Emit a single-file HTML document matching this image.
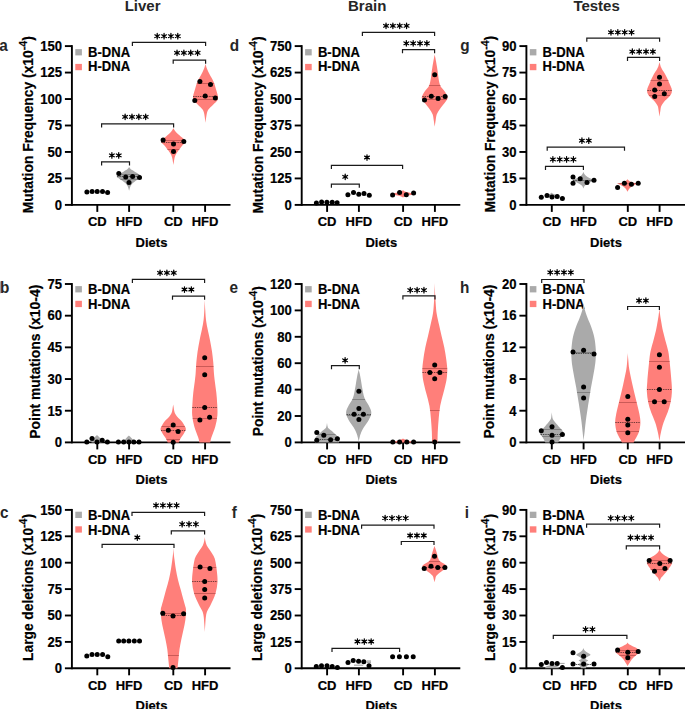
<!DOCTYPE html>
<html><head><meta charset="utf-8"><title>Figure</title>
<style>
html,body{margin:0;padding:0;background:#fff;}
body{width:685px;height:709px;overflow:hidden;}
svg{display:block;}
text{font-family:"Liberation Sans", sans-serif;fill:#000;stroke:#000;stroke-width:0.2px;}
.g{fill:#262626;stroke:none;}
.b{font-weight:bold;}
</style></head><body>
<svg width="685" height="709" viewBox="0 0 685 709">
<rect width="685" height="709" fill="#fff"/>
<text x="142.6" y="11.4" font-size="15" text-anchor="middle" class="b g">Liver</text>
<text x="367.2" y="11.4" font-size="15" text-anchor="middle" class="b g">Brain</text>
<text x="596.6" y="11.4" font-size="15" text-anchor="middle" class="b g">Testes</text>
<g stroke="#000" stroke-width="1.9" fill="none">
<path d="M71.9,45.15V205.85"/>
<path d="M64.9,46.1H71.9"/>
<path d="M64.9,72.57H71.9"/>
<path d="M64.9,99.03H71.9"/>
<path d="M64.9,125.5H71.9"/>
<path d="M64.9,151.97H71.9"/>
<path d="M64.9,178.43H71.9"/>
<path d="M64.9,204.9H71.9"/>
<path d="M71.9,204.9H230.5"/>
<path d="M97.3,204.9V211.9"/>
<path d="M129.1,204.9V211.9"/>
<path d="M173.3,204.9V211.9"/>
<path d="M205.1,204.9V211.9"/>
</g>
<text transform="translate(62.1,50.9) scale(0.95,1)" font-size="13.8" text-anchor="end" class="b">150</text>
<text transform="translate(62.1,77.37) scale(0.95,1)" font-size="13.8" text-anchor="end" class="b">125</text>
<text transform="translate(62.1,103.83) scale(0.95,1)" font-size="13.8" text-anchor="end" class="b">100</text>
<text transform="translate(62.1,130.3) scale(0.95,1)" font-size="13.8" text-anchor="end" class="b">75</text>
<text transform="translate(62.1,156.77) scale(0.95,1)" font-size="13.8" text-anchor="end" class="b">50</text>
<text transform="translate(62.1,183.23) scale(0.95,1)" font-size="13.8" text-anchor="end" class="b">25</text>
<text transform="translate(62.1,209.7) scale(0.95,1)" font-size="13.8" text-anchor="end" class="b">0</text>
<text x="97.3" y="226.1" font-size="13" text-anchor="middle" class="b">CD</text>
<text x="129.1" y="226.1" font-size="13" text-anchor="middle" class="b">HFD</text>
<text x="173.3" y="226.1" font-size="13" text-anchor="middle" class="b">CD</text>
<text x="205.1" y="226.1" font-size="13" text-anchor="middle" class="b">HFD</text>
<text x="151.5" y="246.7" font-size="13" text-anchor="middle" class="b">Diets</text>
<text transform="translate(33.1,213.3) rotate(-90)" font-size="15" class="b" textLength="177.1" lengthAdjust="spacingAndGlyphs">Mutation Frequency (x10<tspan dy="-6" font-size="11.5">-4</tspan><tspan dy="6">)</tspan></text>
<text transform="translate(-0.75,50.9) scale(0.93,1)" font-size="16.5" class="b g">a</text>
<rect x="75.3" y="49.1" width="6.6" height="6.3" fill="#aaaaaa"/>
<rect x="75.3" y="63.9" width="6.6" height="6.3" fill="#ff7f7a"/>
<text transform="translate(88.1,56.6) scale(0.92,1)" font-size="14.2" class="b">B-DNA</text>
<text transform="translate(88.1,71.3) scale(0.92,1)" font-size="14.2" class="b">H-DNA</text>
<circle cx="86.9" cy="191.9" r="2.5" fill="#000"/>
<circle cx="92.1" cy="191.6" r="2.5" fill="#000"/>
<circle cx="97.2" cy="191.6" r="2.5" fill="#000"/>
<circle cx="102.5" cy="191.6" r="2.5" fill="#000"/>
<circle cx="107.6" cy="192.4" r="2.5" fill="#000"/>
<path d="M129.1,167C129.23,167.2 129.57,167.8 129.9,168.2C130.23,168.6 130.57,169 131.1,169.4C131.63,169.8 132.43,170.18 133.1,170.6C133.77,171.02 134.43,171.48 135.1,171.9C135.77,172.32 136.48,172.68 137.1,173.1C137.72,173.52 138.25,173.98 138.8,174.4C139.35,174.82 139.95,175.18 140.4,175.6C140.85,176.02 141.58,176.48 141.5,176.9C141.42,177.32 140.48,177.68 139.9,178.1C139.32,178.52 138.63,178.98 138,179.4C137.37,179.82 136.72,180.18 136.1,180.6C135.48,181.02 134.83,181.48 134.3,181.9C133.77,182.32 133.32,182.7 132.9,183.1C132.48,183.5 132.23,183.68 131.8,184.3C131.37,184.92 130.75,185.72 130.3,186.8C129.85,187.88 129.3,190.13 129.1,190.8L129.1,190.8C128.9,190.13 128.35,187.88 127.9,186.8C127.45,185.72 126.83,184.92 126.4,184.3C125.97,183.68 125.72,183.5 125.3,183.1C124.88,182.7 124.43,182.32 123.9,181.9C123.37,181.48 122.72,181.02 122.1,180.6C121.48,180.18 120.83,179.82 120.2,179.4C119.57,178.98 118.88,178.52 118.3,178.1C117.72,177.68 116.78,177.32 116.7,176.9C116.62,176.48 117.35,176.02 117.8,175.6C118.25,175.18 118.85,174.82 119.4,174.4C119.95,173.98 120.48,173.52 121.1,173.1C121.72,172.68 122.43,172.32 123.1,171.9C123.77,171.48 124.43,171.02 125.1,170.6C125.77,170.18 126.57,169.8 127.1,169.4C127.63,169 127.97,168.6 128.3,168.2C128.63,167.8 128.97,167.2 129.1,167Z" fill="#aaaaaa"/>
<line x1="117.12" y1="176.5" x2="141.08" y2="176.5" stroke="#222222" stroke-dasharray="1.4,0.9" stroke-width="1" stroke-opacity="0.7"/>
<line x1="118.87" y1="174.5" x2="139.33" y2="174.5" stroke="#5e5e5e" stroke-width="1" stroke-opacity="0.55"/>
<line x1="120.52" y1="179.5" x2="137.68" y2="179.5" stroke="#5e5e5e" stroke-width="1" stroke-opacity="0.55"/>
<circle cx="118.8" cy="173.5" r="2.5" fill="#000"/>
<circle cx="125.7" cy="177.1" r="2.5" fill="#000"/>
<circle cx="132.6" cy="176.4" r="2.5" fill="#000"/>
<circle cx="139.5" cy="177.6" r="2.5" fill="#000"/>
<circle cx="129" cy="182.5" r="2.5" fill="#000"/>
<path d="M173.4,128.3C173.6,128.62 174.22,129.63 174.6,130.2C174.98,130.77 175.28,131.18 175.7,131.7C176.12,132.22 176.58,132.78 177.1,133.3C177.62,133.82 178.2,134.28 178.8,134.8C179.4,135.32 180.05,135.87 180.7,136.4C181.35,136.93 182.08,137.48 182.7,138C183.32,138.52 183.88,138.83 184.4,139.5C184.92,140.17 186.18,140.97 185.8,142C185.42,143.03 183.08,144.57 182.1,145.7C181.12,146.83 180.68,147.77 179.9,148.8C179.12,149.83 178.12,150.87 177.4,151.9C176.68,152.93 176.1,153.87 175.6,155C175.1,156.13 174.77,157.03 174.4,158.7C174.03,160.37 173.57,163.95 173.4,165L173.4,165C173.23,163.95 172.77,160.37 172.4,158.7C172.03,157.03 171.7,156.13 171.2,155C170.7,153.87 170.12,152.93 169.4,151.9C168.68,150.87 167.68,149.83 166.9,148.8C166.12,147.77 165.68,146.83 164.7,145.7C163.72,144.57 161.38,143.03 161,142C160.62,140.97 161.88,140.17 162.4,139.5C162.92,138.83 163.48,138.52 164.1,138C164.72,137.48 165.45,136.93 166.1,136.4C166.75,135.87 167.4,135.32 168,134.8C168.6,134.28 169.18,133.82 169.7,133.3C170.22,132.78 170.68,132.22 171.1,131.7C171.52,131.18 171.82,130.77 172.2,130.2C172.58,129.63 173.2,128.62 173.4,128.3Z" fill="#ff7f7a"/>
<line x1="161.9" y1="140.5" x2="184.9" y2="140.5" stroke="#a03c3a" stroke-width="1" stroke-opacity="0.55"/>
<line x1="161.3" y1="142.5" x2="185.5" y2="142.5" stroke="#3a1c1c" stroke-dasharray="1.4,0.9" stroke-width="1" stroke-opacity="0.7"/>
<line x1="167.38" y1="149.5" x2="179.42" y2="149.5" stroke="#a03c3a" stroke-width="1" stroke-opacity="0.55"/>
<circle cx="163.1" cy="140" r="2.5" fill="#000"/>
<circle cx="183.8" cy="141.5" r="2.5" fill="#000"/>
<circle cx="173.5" cy="144.1" r="2.5" fill="#000"/>
<circle cx="173.5" cy="151.5" r="2.5" fill="#000"/>
<path d="M205.5,64C205.7,64.67 206.22,66.68 206.7,68C207.18,69.32 207.62,70.3 208.4,71.9C209.18,73.5 210.47,75.8 211.4,77.6C212.33,79.4 213.25,80.82 214,82.7C214.75,84.58 215.25,86.65 215.9,88.9C216.55,91.15 217.65,94.32 217.9,96.2C218.15,98.08 218.2,98.78 217.4,100.2C216.6,101.62 214.57,103.2 213.1,104.7C211.63,106.2 209.65,107.7 208.6,109.2C207.55,110.7 207.32,111.45 206.8,113.7C206.28,115.95 205.72,121.2 205.5,122.7L205.5,122.7C205.28,121.2 204.72,115.95 204.2,113.7C203.68,111.45 203.45,110.7 202.4,109.2C201.35,107.7 199.37,106.2 197.9,104.7C196.43,103.2 194.4,101.62 193.6,100.2C192.8,98.78 192.85,98.08 193.1,96.2C193.35,94.32 194.45,91.15 195.1,88.9C195.75,86.65 196.25,84.58 197,82.7C197.75,80.82 198.67,79.4 199.6,77.6C200.53,75.8 201.82,73.5 202.6,71.9C203.38,70.3 203.82,69.32 204.3,68C204.78,66.68 205.3,64.67 205.5,64Z" fill="#ff7f7a"/>
<line x1="196.85" y1="83.5" x2="214.15" y2="83.5" stroke="#a03c3a" stroke-width="1" stroke-opacity="0.55"/>
<line x1="193.1" y1="96.5" x2="217.9" y2="96.5" stroke="#3a1c1c" stroke-dasharray="1.4,0.9" stroke-width="1" stroke-opacity="0.7"/>
<line x1="193.49" y1="99.5" x2="217.51" y2="99.5" stroke="#a03c3a" stroke-width="1" stroke-opacity="0.55"/>
<circle cx="199.9" cy="81.5" r="2.5" fill="#000"/>
<circle cx="210.5" cy="84.6" r="2.5" fill="#000"/>
<circle cx="205.2" cy="95.9" r="2.5" fill="#000"/>
<circle cx="215.3" cy="98.1" r="2.5" fill="#000"/>
<circle cx="194.8" cy="100.5" r="2.5" fill="#000"/>
<g stroke="#000" stroke-width="1.9" fill="none">
<path d="M71.9,283.05V443.35"/>
<path d="M64.9,284H71.9"/>
<path d="M64.9,315.68H71.9"/>
<path d="M64.9,347.36H71.9"/>
<path d="M64.9,379.04H71.9"/>
<path d="M64.9,410.72H71.9"/>
<path d="M64.9,442.4H71.9"/>
<path d="M71.9,442.4H230.5"/>
<path d="M97.3,442.4V449.4"/>
<path d="M129.1,442.4V449.4"/>
<path d="M173.3,442.4V449.4"/>
<path d="M205.1,442.4V449.4"/>
</g>
<text transform="translate(62.1,288.8) scale(0.95,1)" font-size="13.8" text-anchor="end" class="b">75</text>
<text transform="translate(62.1,320.48) scale(0.95,1)" font-size="13.8" text-anchor="end" class="b">60</text>
<text transform="translate(62.1,352.16) scale(0.95,1)" font-size="13.8" text-anchor="end" class="b">45</text>
<text transform="translate(62.1,383.84) scale(0.95,1)" font-size="13.8" text-anchor="end" class="b">30</text>
<text transform="translate(62.1,415.52) scale(0.95,1)" font-size="13.8" text-anchor="end" class="b">15</text>
<text transform="translate(62.1,447.2) scale(0.95,1)" font-size="13.8" text-anchor="end" class="b">0</text>
<text x="97.3" y="463.6" font-size="13" text-anchor="middle" class="b">CD</text>
<text x="129.1" y="463.6" font-size="13" text-anchor="middle" class="b">HFD</text>
<text x="173.3" y="463.6" font-size="13" text-anchor="middle" class="b">CD</text>
<text x="205.1" y="463.6" font-size="13" text-anchor="middle" class="b">HFD</text>
<text x="151.5" y="484.2" font-size="13" text-anchor="middle" class="b">Diets</text>
<text transform="translate(40.1,438.8) rotate(-90)" font-size="15" class="b" textLength="154.1" lengthAdjust="spacingAndGlyphs">Point mutations (x10-4)</text>
<text transform="translate(-0.1,293.1) scale(0.93,1)" font-size="16.5" class="b g">b</text>
<rect x="75.3" y="286.1" width="6.6" height="6.3" fill="#aaaaaa"/>
<rect x="75.3" y="300.8" width="6.6" height="6.3" fill="#ff7f7a"/>
<text transform="translate(88.1,293.9) scale(0.92,1)" font-size="14.2" class="b">B-DNA</text>
<text transform="translate(88.1,308.8) scale(0.92,1)" font-size="14.2" class="b">H-DNA</text>
<path d="M97,435C97.42,435.42 98.67,436.67 99.5,437.5C100.33,438.33 101.5,439.18 102,440C102.5,440.82 102.42,442 102.5,442.4L91.5,442.4C91.58,442 91.5,440.82 92,440C92.5,439.18 93.67,438.33 94.5,437.5C95.33,436.67 96.58,435.42 97,435Z" fill="#aaaaaa"/>
<circle cx="86.8" cy="442" r="2.5" fill="#000"/>
<circle cx="92" cy="438.5" r="2.5" fill="#000"/>
<circle cx="97" cy="442" r="2.5" fill="#000"/>
<circle cx="102.2" cy="440.3" r="2.5" fill="#000"/>
<circle cx="107.4" cy="442" r="2.5" fill="#000"/>
<path d="M128.9,435.5C129.32,435.92 130.65,437.17 131.4,438C132.15,438.83 132.98,439.77 133.4,440.5C133.82,441.23 133.82,442.08 133.9,442.4L123.9,442.4C123.98,442.08 123.98,441.23 124.4,440.5C124.82,439.77 125.65,438.83 126.4,438C127.15,437.17 128.48,435.92 128.9,435.5Z" fill="#aaaaaa"/>
<circle cx="118.4" cy="442" r="2.5" fill="#000"/>
<circle cx="123.7" cy="442" r="2.5" fill="#000"/>
<circle cx="128.9" cy="442" r="2.5" fill="#000"/>
<circle cx="133.8" cy="442" r="2.5" fill="#000"/>
<circle cx="139" cy="442" r="2.5" fill="#000"/>
<path d="M173.2,404.5C173.27,404.92 173.47,406.13 173.6,407C173.73,407.87 173.8,408.7 174,409.7C174.2,410.7 174.33,411.92 174.8,413C175.27,414.08 175.93,415.12 176.8,416.2C177.67,417.28 179,418.42 180,419.5C181,420.58 182.02,421.62 182.8,422.7C183.58,423.78 184.18,424.92 184.7,426C185.22,427.08 185.95,428.13 185.9,429.2C185.85,430.27 184.98,431.32 184.4,432.4C183.82,433.48 183.1,434.62 182.4,435.7C181.7,436.78 180.8,437.78 180.2,438.9C179.6,440.02 179.03,441.82 178.8,442.4L167.6,442.4C167.37,441.82 166.8,440.02 166.2,438.9C165.6,437.78 164.7,436.78 164,435.7C163.3,434.62 162.58,433.48 162,432.4C161.42,431.32 160.55,430.27 160.5,429.2C160.45,428.13 161.18,427.08 161.7,426C162.22,424.92 162.82,423.78 163.6,422.7C164.38,421.62 165.4,420.58 166.4,419.5C167.4,418.42 168.73,417.28 169.6,416.2C170.47,415.12 171.13,414.08 171.6,413C172.07,411.92 172.2,410.7 172.4,409.7C172.6,408.7 172.67,407.87 172.8,407C172.93,406.13 173.13,404.92 173.2,404.5Z" fill="#ff7f7a"/>
<line x1="161.59" y1="426.5" x2="184.81" y2="426.5" stroke="#a03c3a" stroke-width="1" stroke-opacity="0.55"/>
<line x1="161.06" y1="430.5" x2="185.34" y2="430.5" stroke="#3a1c1c" stroke-dasharray="1.4,0.9" stroke-width="1" stroke-opacity="0.7"/>
<line x1="166.36" y1="439.5" x2="180.04" y2="439.5" stroke="#a03c3a" stroke-width="1" stroke-opacity="0.55"/>
<circle cx="173.2" cy="425" r="2.5" fill="#000"/>
<circle cx="168.3" cy="430.2" r="2.5" fill="#000"/>
<circle cx="178.1" cy="431.5" r="2.5" fill="#000"/>
<circle cx="173.2" cy="442.2" r="2.5" fill="#000"/>
<path d="M204.8,300C204.88,301.67 205.08,307 205.25,310C205.42,313 205.59,315.8 205.8,318C206.01,320.2 206.2,321.38 206.5,323.2C206.8,325.02 207.02,326.07 207.6,328.9C208.18,331.73 209.27,336.43 210,340.2C210.73,343.97 211.45,347.73 212,351.5C212.55,355.27 212.97,359.03 213.3,362.8C213.63,366.57 213.75,371.02 214,374.1C214.25,377.18 214.42,378.22 214.8,381.3C215.18,384.38 215.9,388.83 216.3,392.6C216.7,396.37 217.02,400.13 217.2,403.9C217.38,407.67 217.72,411.43 217.4,415.2C217.08,418.97 216.32,422.73 215.3,426.5C214.28,430.27 212.15,435.15 211.3,437.8C210.45,440.45 210.38,441.63 210.2,442.4L199.4,442.4C199.22,441.63 199.15,440.45 198.3,437.8C197.45,435.15 195.32,430.27 194.3,426.5C193.28,422.73 192.52,418.97 192.2,415.2C191.88,411.43 192.22,407.67 192.4,403.9C192.58,400.13 192.9,396.37 193.3,392.6C193.7,388.83 194.42,384.38 194.8,381.3C195.18,378.22 195.35,377.18 195.6,374.1C195.85,371.02 195.97,366.57 196.3,362.8C196.63,359.03 197.05,355.27 197.6,351.5C198.15,347.73 198.87,343.97 199.6,340.2C200.33,336.43 201.42,331.73 202,328.9C202.58,326.07 202.8,325.02 203.1,323.2C203.4,321.38 203.59,320.2 203.8,318C204.01,315.8 204.18,313 204.35,310C204.52,307 204.73,301.67 204.8,300Z" fill="#ff7f7a"/>
<line x1="196.08" y1="366.5" x2="213.52" y2="366.5" stroke="#a03c3a" stroke-width="1" stroke-opacity="0.55"/>
<line x1="192.34" y1="407.5" x2="217.26" y2="407.5" stroke="#3a1c1c" stroke-dasharray="1.4,0.9" stroke-width="1" stroke-opacity="0.7"/>
<line x1="192.74" y1="418.5" x2="216.86" y2="418.5" stroke="#a03c3a" stroke-width="1" stroke-opacity="0.55"/>
<circle cx="204.7" cy="357.7" r="2.5" fill="#000"/>
<circle cx="204.7" cy="374.7" r="2.5" fill="#000"/>
<circle cx="204.7" cy="407.5" r="2.5" fill="#000"/>
<circle cx="199.9" cy="419.9" r="2.5" fill="#000"/>
<circle cx="209.6" cy="417.2" r="2.5" fill="#000"/>
<g stroke="#000" stroke-width="1.9" fill="none">
<path d="M71.9,508.95V669.25"/>
<path d="M64.9,509.9H71.9"/>
<path d="M64.9,536.3H71.9"/>
<path d="M64.9,562.7H71.9"/>
<path d="M64.9,589.1H71.9"/>
<path d="M64.9,615.5H71.9"/>
<path d="M64.9,641.9H71.9"/>
<path d="M64.9,668.3H71.9"/>
<path d="M71.9,668.3H230.5"/>
<path d="M97.3,668.3V675.3"/>
<path d="M129.1,668.3V675.3"/>
<path d="M173.3,668.3V675.3"/>
<path d="M205.1,668.3V675.3"/>
</g>
<text transform="translate(62.1,514.7) scale(0.95,1)" font-size="13.8" text-anchor="end" class="b">150</text>
<text transform="translate(62.1,541.1) scale(0.95,1)" font-size="13.8" text-anchor="end" class="b">125</text>
<text transform="translate(62.1,567.5) scale(0.95,1)" font-size="13.8" text-anchor="end" class="b">100</text>
<text transform="translate(62.1,593.9) scale(0.95,1)" font-size="13.8" text-anchor="end" class="b">75</text>
<text transform="translate(62.1,620.3) scale(0.95,1)" font-size="13.8" text-anchor="end" class="b">50</text>
<text transform="translate(62.1,646.7) scale(0.95,1)" font-size="13.8" text-anchor="end" class="b">25</text>
<text transform="translate(62.1,673.1) scale(0.95,1)" font-size="13.8" text-anchor="end" class="b">0</text>
<text x="97.3" y="689.5" font-size="13" text-anchor="middle" class="b">CD</text>
<text x="129.1" y="689.5" font-size="13" text-anchor="middle" class="b">HFD</text>
<text x="173.3" y="689.5" font-size="13" text-anchor="middle" class="b">CD</text>
<text x="205.1" y="689.5" font-size="13" text-anchor="middle" class="b">HFD</text>
<text x="151.5" y="710.1" font-size="13" text-anchor="middle" class="b">Diets</text>
<text transform="translate(33.1,660.9) rotate(-90)" font-size="15" class="b" textLength="146.9" lengthAdjust="spacingAndGlyphs">Large deletions (x10<tspan dy="-6" font-size="11.5">-4</tspan><tspan dy="6">)</tspan></text>
<text transform="translate(-0.1,518.3) scale(0.93,1)" font-size="16.5" class="b g">c</text>
<rect x="75.3" y="511.7" width="6.6" height="6.3" fill="#aaaaaa"/>
<rect x="75.3" y="526.3" width="6.6" height="6.3" fill="#ff7f7a"/>
<text transform="translate(88.1,519.6) scale(0.92,1)" font-size="14.2" class="b">B-DNA</text>
<text transform="translate(88.1,534.5) scale(0.92,1)" font-size="14.2" class="b">H-DNA</text>
<circle cx="86.8" cy="656" r="2.5" fill="#000"/>
<circle cx="92" cy="654.5" r="2.5" fill="#000"/>
<circle cx="97.2" cy="654.5" r="2.5" fill="#000"/>
<circle cx="102.6" cy="654.5" r="2.5" fill="#000"/>
<circle cx="107.8" cy="656.7" r="2.5" fill="#000"/>
<circle cx="118.7" cy="640.9" r="2.5" fill="#000"/>
<circle cx="123.7" cy="640.9" r="2.5" fill="#000"/>
<circle cx="128.9" cy="640.9" r="2.5" fill="#000"/>
<circle cx="134.3" cy="640.9" r="2.5" fill="#000"/>
<circle cx="139.5" cy="640.9" r="2.5" fill="#000"/>
<path d="M173.4,548C173.47,549 173.62,552.05 173.8,554C173.98,555.95 174.15,557.1 174.5,559.7C174.85,562.3 175.33,566.32 175.9,569.6C176.47,572.88 177.12,576.12 177.9,579.4C178.68,582.68 179.7,586 180.6,589.3C181.5,592.6 182.58,596.58 183.3,599.2C184.02,601.82 184.45,603.22 184.9,605C185.35,606.78 185.92,607.45 186,609.9C186.08,612.35 185.82,616.42 185.4,619.7C184.98,622.98 184.18,626.32 183.5,629.6C182.82,632.88 181.97,636.12 181.3,639.4C180.63,642.68 179.97,646 179.5,649.3C179.03,652.6 178.83,656.03 178.5,659.2C178.17,662.37 177.67,666.78 177.5,668.3L169.3,668.3C169.13,666.78 168.63,662.37 168.3,659.2C167.97,656.03 167.77,652.6 167.3,649.3C166.83,646 166.17,642.68 165.5,639.4C164.83,636.12 163.98,632.88 163.3,629.6C162.62,626.32 161.82,622.98 161.4,619.7C160.98,616.42 160.72,612.35 160.8,609.9C160.88,607.45 161.45,606.78 161.9,605C162.35,603.22 162.78,601.82 163.5,599.2C164.22,596.58 165.3,592.6 166.2,589.3C167.1,586 168.12,582.68 168.9,579.4C169.68,576.12 170.33,572.88 170.9,569.6C171.47,566.32 171.95,562.3 172.3,559.7C172.65,557.1 172.82,555.95 173,554C173.18,552.05 173.33,549 173.4,548Z" fill="#ff7f7a"/>
<line x1="161.01" y1="613.5" x2="185.79" y2="613.5" stroke="#a03c3a" stroke-width="1" stroke-opacity="0.55"/>
<line x1="161.14" y1="615.5" x2="185.66" y2="615.5" stroke="#3a1c1c" stroke-dasharray="1.4,0.9" stroke-width="1" stroke-opacity="0.7"/>
<line x1="167.89" y1="655.5" x2="178.91" y2="655.5" stroke="#a03c3a" stroke-width="1" stroke-opacity="0.55"/>
<circle cx="162.8" cy="613.3" r="2.5" fill="#000"/>
<circle cx="173" cy="616" r="2.5" fill="#000"/>
<circle cx="183.6" cy="613.7" r="2.5" fill="#000"/>
<circle cx="173" cy="667.6" r="2.5" fill="#000"/>
<path d="M204.8,537C204.9,537.67 205.07,539.58 205.4,541C205.73,542.42 206.07,544 206.8,545.5C207.53,547 208.77,548.42 209.8,550C210.83,551.58 212.12,553.33 213,555C213.88,556.67 214.47,557.38 215.1,560C215.73,562.62 216.4,567.03 216.8,570.7C217.2,574.37 217.72,578.22 217.5,582C217.28,585.78 216.63,589.62 215.5,593.4C214.37,597.18 212.07,601.77 210.7,604.7C209.33,607.63 208.08,609.12 207.3,611C206.52,612.88 206.33,613.83 206,616C205.67,618.17 205.5,621.33 205.3,624C205.1,626.67 204.88,630.67 204.8,632L204.8,632C204.72,630.67 204.5,626.67 204.3,624C204.1,621.33 203.93,618.17 203.6,616C203.27,613.83 203.08,612.88 202.3,611C201.52,609.12 200.27,607.63 198.9,604.7C197.53,601.77 195.23,597.18 194.1,593.4C192.97,589.62 192.32,585.78 192.1,582C191.88,578.22 192.4,574.37 192.8,570.7C193.2,567.03 193.87,562.62 194.5,560C195.13,557.38 195.72,556.67 196.6,555C197.48,553.33 198.77,551.58 199.8,550C200.83,548.42 202.07,547 202.8,545.5C203.53,544 203.87,542.42 204.2,541C204.53,539.58 204.7,537.67 204.8,537Z" fill="#ff7f7a"/>
<line x1="193.34" y1="567.5" x2="216.26" y2="567.5" stroke="#a03c3a" stroke-width="1" stroke-opacity="0.55"/>
<line x1="192.12" y1="581.5" x2="217.48" y2="581.5" stroke="#3a1c1c" stroke-dasharray="1.4,0.9" stroke-width="1" stroke-opacity="0.7"/>
<line x1="194.1" y1="593.5" x2="215.5" y2="593.5" stroke="#a03c3a" stroke-width="1" stroke-opacity="0.55"/>
<circle cx="200.1" cy="566.9" r="2.5" fill="#000"/>
<circle cx="209.9" cy="568.5" r="2.5" fill="#000"/>
<circle cx="204.7" cy="581.6" r="2.5" fill="#000"/>
<circle cx="204.7" cy="589.5" r="2.5" fill="#000"/>
<circle cx="204.7" cy="597.9" r="2.5" fill="#000"/>
<g stroke="#000" stroke-width="1.9" fill="none">
<path d="M301.7,45.15V205.85"/>
<path d="M294.7,46.1H301.7"/>
<path d="M294.7,72.57H301.7"/>
<path d="M294.7,99.03H301.7"/>
<path d="M294.7,125.5H301.7"/>
<path d="M294.7,151.97H301.7"/>
<path d="M294.7,178.43H301.7"/>
<path d="M294.7,204.9H301.7"/>
<path d="M301.7,204.9H460.3"/>
<path d="M327.1,204.9V211.9"/>
<path d="M358.9,204.9V211.9"/>
<path d="M403.1,204.9V211.9"/>
<path d="M434.9,204.9V211.9"/>
</g>
<text transform="translate(291.9,50.9) scale(0.95,1)" font-size="13.8" text-anchor="end" class="b">750</text>
<text transform="translate(291.9,77.37) scale(0.95,1)" font-size="13.8" text-anchor="end" class="b">625</text>
<text transform="translate(291.9,103.83) scale(0.95,1)" font-size="13.8" text-anchor="end" class="b">500</text>
<text transform="translate(291.9,130.3) scale(0.95,1)" font-size="13.8" text-anchor="end" class="b">375</text>
<text transform="translate(291.9,156.77) scale(0.95,1)" font-size="13.8" text-anchor="end" class="b">250</text>
<text transform="translate(291.9,183.23) scale(0.95,1)" font-size="13.8" text-anchor="end" class="b">125</text>
<text transform="translate(291.9,209.7) scale(0.95,1)" font-size="13.8" text-anchor="end" class="b">0</text>
<text x="327.1" y="226.1" font-size="13" text-anchor="middle" class="b">CD</text>
<text x="358.9" y="226.1" font-size="13" text-anchor="middle" class="b">HFD</text>
<text x="403.1" y="226.1" font-size="13" text-anchor="middle" class="b">CD</text>
<text x="434.9" y="226.1" font-size="13" text-anchor="middle" class="b">HFD</text>
<text x="381.3" y="246.7" font-size="13" text-anchor="middle" class="b">Diets</text>
<text transform="translate(263.3,213.4) rotate(-90)" font-size="15" class="b" textLength="177" lengthAdjust="spacingAndGlyphs">Mutation Frequency (x10<tspan dy="-6" font-size="11.5">-4</tspan><tspan dy="6">)</tspan></text>
<text transform="translate(229.8,50.5) scale(0.93,1)" font-size="16.5" class="b g">d</text>
<rect x="305.1" y="49.1" width="6.6" height="6.3" fill="#aaaaaa"/>
<rect x="305.1" y="63.9" width="6.6" height="6.3" fill="#ff7f7a"/>
<text transform="translate(317.9,56.6) scale(0.92,1)" font-size="14.2" class="b">B-DNA</text>
<text transform="translate(317.9,71.3) scale(0.92,1)" font-size="14.2" class="b">H-DNA</text>
<circle cx="316.4" cy="202.9" r="2.5" fill="#000"/>
<circle cx="321.6" cy="202" r="2.5" fill="#000"/>
<circle cx="326.9" cy="202.3" r="2.5" fill="#000"/>
<circle cx="332.2" cy="202.2" r="2.5" fill="#000"/>
<circle cx="337.1" cy="202.8" r="2.5" fill="#000"/>
<circle cx="347.9" cy="194.7" r="2.5" fill="#000"/>
<circle cx="353.5" cy="192.6" r="2.5" fill="#000"/>
<circle cx="358.8" cy="194.3" r="2.5" fill="#000"/>
<circle cx="364" cy="193.4" r="2.5" fill="#000"/>
<circle cx="369.3" cy="195.2" r="2.5" fill="#000"/>
<path d="M403,189.9C403.33,190.17 403.67,190.98 405,191.5C406.33,192.02 409.42,192.58 411,193C412.58,193.42 414.5,193.67 414.5,194C414.5,194.33 412.42,194.67 411,195C409.58,195.33 407.33,195.58 406,196C404.67,196.42 403.5,197.25 403,197.5L403,197.5C402.5,197.25 401.33,196.42 400,196C398.67,195.58 396.42,195.33 395,195C393.58,194.67 391.5,194.33 391.5,194C391.5,193.67 393.42,193.42 395,193C396.58,192.58 399.67,192.02 401,191.5C402.33,190.98 402.67,190.17 403,189.9Z" fill="#ff7f7a"/>
<circle cx="392.6" cy="195" r="2.5" fill="#000"/>
<circle cx="399.6" cy="192.4" r="2.5" fill="#000"/>
<circle cx="406.3" cy="194.7" r="2.5" fill="#000"/>
<circle cx="413.6" cy="192.9" r="2.5" fill="#000"/>
<path d="M434.7,54.5C434.82,55.08 435.18,56.87 435.4,58C435.62,59.13 435.73,59.82 436,61.3C436.27,62.78 436.7,65.02 437,66.9C437.3,68.78 437.55,70.72 437.8,72.6C438.05,74.48 438.18,76.32 438.5,78.2C438.82,80.08 439.25,82.4 439.7,83.9C440.15,85.4 440.48,86.08 441.2,87.2C441.92,88.32 443.07,89.28 444,90.6C444.93,91.92 446.22,93.78 446.8,95.1C447.38,96.42 447.87,97.18 447.5,98.5C447.13,99.82 445.83,101.3 444.6,103C443.37,104.7 441.4,106.82 440.1,108.7C438.8,110.58 437.53,112.42 436.8,114.3C436.07,116.18 436.05,117.93 435.7,120C435.35,122.07 434.87,125.58 434.7,126.7L434.7,126.7C434.53,125.58 434.05,122.07 433.7,120C433.35,117.93 433.33,116.18 432.6,114.3C431.87,112.42 430.6,110.58 429.3,108.7C428,106.82 426.03,104.7 424.8,103C423.57,101.3 422.27,99.82 421.9,98.5C421.53,97.18 422.02,96.42 422.6,95.1C423.18,93.78 424.47,91.92 425.4,90.6C426.33,89.28 427.48,88.32 428.2,87.2C428.92,86.08 429.25,85.4 429.7,83.9C430.15,82.4 430.58,80.08 430.9,78.2C431.22,76.32 431.35,74.48 431.6,72.6C431.85,70.72 432.1,68.78 432.4,66.9C432.7,65.02 433.13,62.78 433.4,61.3C433.67,59.82 433.78,59.13 434,58C434.22,56.87 434.58,55.08 434.7,54.5Z" fill="#ff7f7a"/>
<line x1="428.93" y1="85.5" x2="440.47" y2="85.5" stroke="#a03c3a" stroke-width="1" stroke-opacity="0.55"/>
<line x1="422.35" y1="96.5" x2="447.05" y2="96.5" stroke="#3a1c1c" stroke-dasharray="1.4,0.9" stroke-width="1" stroke-opacity="0.7"/>
<line x1="422.42" y1="99.5" x2="446.98" y2="99.5" stroke="#a03c3a" stroke-width="1" stroke-opacity="0.55"/>
<circle cx="434.7" cy="74.8" r="2.5" fill="#000"/>
<circle cx="424.5" cy="99.9" r="2.5" fill="#000"/>
<circle cx="431.3" cy="96.3" r="2.5" fill="#000"/>
<circle cx="438.1" cy="98.5" r="2.5" fill="#000"/>
<circle cx="445.1" cy="96.5" r="2.5" fill="#000"/>
<g stroke="#000" stroke-width="1.9" fill="none">
<path d="M301.7,283.05V443.35"/>
<path d="M294.7,284H301.7"/>
<path d="M294.7,310.4H301.7"/>
<path d="M294.7,336.8H301.7"/>
<path d="M294.7,363.2H301.7"/>
<path d="M294.7,389.6H301.7"/>
<path d="M294.7,416H301.7"/>
<path d="M294.7,442.4H301.7"/>
<path d="M301.7,442.4H460.3"/>
<path d="M327.1,442.4V449.4"/>
<path d="M358.9,442.4V449.4"/>
<path d="M403.1,442.4V449.4"/>
<path d="M434.9,442.4V449.4"/>
</g>
<text transform="translate(291.9,288.8) scale(0.95,1)" font-size="13.8" text-anchor="end" class="b">120</text>
<text transform="translate(291.9,315.2) scale(0.95,1)" font-size="13.8" text-anchor="end" class="b">100</text>
<text transform="translate(291.9,341.6) scale(0.95,1)" font-size="13.8" text-anchor="end" class="b">80</text>
<text transform="translate(291.9,368) scale(0.95,1)" font-size="13.8" text-anchor="end" class="b">60</text>
<text transform="translate(291.9,394.4) scale(0.95,1)" font-size="13.8" text-anchor="end" class="b">40</text>
<text transform="translate(291.9,420.8) scale(0.95,1)" font-size="13.8" text-anchor="end" class="b">20</text>
<text transform="translate(291.9,447.2) scale(0.95,1)" font-size="13.8" text-anchor="end" class="b">0</text>
<text x="327.1" y="463.6" font-size="13" text-anchor="middle" class="b">CD</text>
<text x="358.9" y="463.6" font-size="13" text-anchor="middle" class="b">HFD</text>
<text x="403.1" y="463.6" font-size="13" text-anchor="middle" class="b">CD</text>
<text x="434.9" y="463.6" font-size="13" text-anchor="middle" class="b">HFD</text>
<text x="381.3" y="484.2" font-size="13" text-anchor="middle" class="b">Diets</text>
<text transform="translate(263.3,436.2) rotate(-90)" font-size="15" class="b" textLength="150" lengthAdjust="spacingAndGlyphs">Point mutations (x10<tspan dy="-6" font-size="11.5">-4</tspan><tspan dy="6">)</tspan></text>
<text transform="translate(229.5,293.4) scale(0.93,1)" font-size="16.5" class="b g">e</text>
<rect x="305.1" y="286.1" width="6.6" height="6.3" fill="#aaaaaa"/>
<rect x="305.1" y="300.8" width="6.6" height="6.3" fill="#ff7f7a"/>
<text transform="translate(317.9,293.9) scale(0.92,1)" font-size="14.2" class="b">B-DNA</text>
<text transform="translate(317.9,308.8) scale(0.92,1)" font-size="14.2" class="b">H-DNA</text>
<path d="M327,423C327.08,423.5 327.27,425.13 327.5,426C327.73,426.87 327.72,427.4 328.4,428.2C329.08,429 330.63,429.95 331.6,430.8C332.57,431.65 333.27,432.45 334.2,433.3C335.13,434.15 336.4,435.05 337.2,435.9C338,436.75 338.7,437.32 339,438.4C339.3,439.48 339,441.73 339,442.4L315,442.4C315,441.73 314.7,439.48 315,438.4C315.3,437.32 316,436.75 316.8,435.9C317.6,435.05 318.87,434.15 319.8,433.3C320.73,432.45 321.43,431.65 322.4,430.8C323.37,429.95 324.92,429 325.6,428.2C326.28,427.4 326.27,426.87 326.5,426C326.73,425.13 326.92,423.5 327,423Z" fill="#aaaaaa"/>
<line x1="318.53" y1="434.5" x2="335.47" y2="434.5" stroke="#5e5e5e" stroke-width="1" stroke-opacity="0.55"/>
<line x1="315" y1="439.5" x2="339" y2="439.5" stroke="#222222" stroke-dasharray="1.4,0.9" stroke-width="1" stroke-opacity="0.7"/>
<circle cx="316.8" cy="432.4" r="2.5" fill="#000"/>
<circle cx="323.8" cy="435.3" r="2.5" fill="#000"/>
<circle cx="316.8" cy="440.3" r="2.5" fill="#000"/>
<circle cx="330.6" cy="439.8" r="2.5" fill="#000"/>
<circle cx="337.4" cy="438.7" r="2.5" fill="#000"/>
<path d="M358.7,369.5C358.87,370.17 359.4,372.12 359.7,373.5C360,374.88 360.2,376.1 360.5,377.8C360.8,379.5 361.17,381.73 361.5,383.7C361.83,385.67 362.13,387.63 362.5,389.6C362.87,391.57 363.2,393.73 363.7,395.5C364.2,397.27 364.7,398.62 365.5,400.2C366.3,401.78 367.57,403.22 368.5,405C369.43,406.78 370.72,409.13 371.1,410.9C371.48,412.67 371.33,413.83 370.8,415.6C370.27,417.37 369.08,419.52 367.9,421.5C366.72,423.48 364.88,425.52 363.7,427.5C362.52,429.48 361.47,431.82 360.8,433.4C360.13,434.98 360.05,435.62 359.7,437C359.35,438.38 358.87,440.92 358.7,441.7L358.7,441.7C358.53,440.92 358.05,438.38 357.7,437C357.35,435.62 357.27,434.98 356.6,433.4C355.93,431.82 354.88,429.48 353.7,427.5C352.52,425.52 350.68,423.48 349.5,421.5C348.32,419.52 347.13,417.37 346.6,415.6C346.07,413.83 345.92,412.67 346.3,410.9C346.68,409.13 347.97,406.78 348.9,405C349.83,403.22 351.1,401.78 351.9,400.2C352.7,398.62 353.2,397.27 353.7,395.5C354.2,393.73 354.53,391.57 354.9,389.6C355.27,387.63 355.57,385.67 355.9,383.7C356.23,381.73 356.6,379.5 356.9,377.8C357.2,376.1 357.4,374.88 357.7,373.5C358,372.12 358.53,370.17 358.7,369.5Z" fill="#aaaaaa"/>
<line x1="352.32" y1="399.5" x2="365.08" y2="399.5" stroke="#5e5e5e" stroke-width="1" stroke-opacity="0.55"/>
<line x1="346.51" y1="414.5" x2="370.89" y2="414.5" stroke="#222222" stroke-dasharray="1.4,0.9" stroke-width="1" stroke-opacity="0.7"/>
<line x1="346.7" y1="415.5" x2="370.7" y2="415.5" stroke="#5e5e5e" stroke-width="1" stroke-opacity="0.55"/>
<circle cx="358.9" cy="391.2" r="2.5" fill="#000"/>
<circle cx="358.9" cy="408.6" r="2.5" fill="#000"/>
<circle cx="354.1" cy="414.3" r="2.5" fill="#000"/>
<circle cx="363.4" cy="414.3" r="2.5" fill="#000"/>
<circle cx="358.9" cy="419.5" r="2.5" fill="#000"/>
<path d="M403,438.4C403.33,438.58 404.17,439.15 405,439.5C405.83,439.85 407,440.17 408,440.5C409,440.83 410.42,441.18 411,441.5C411.58,441.82 411.42,442.25 411.5,442.4L394.5,442.4C394.58,442.25 394.42,441.82 395,441.5C395.58,441.18 397,440.83 398,440.5C399,440.17 400.17,439.85 401,439.5C401.83,439.15 402.67,438.58 403,438.4Z" fill="#ff7f7a"/>
<circle cx="392.8" cy="442.1" r="2.5" fill="#000"/>
<circle cx="399.6" cy="442.1" r="2.5" fill="#000"/>
<circle cx="406.8" cy="442.1" r="2.5" fill="#000"/>
<circle cx="413.6" cy="442.1" r="2.5" fill="#000"/>
<path d="M434.8,283C434.87,285 435.03,291.33 435.2,295C435.37,298.67 435.55,301.87 435.8,305C436.05,308.13 436.15,310.45 436.7,313.8C437.25,317.15 438.27,321.33 439.1,325.1C439.93,328.87 440.83,332.65 441.7,336.4C442.57,340.15 443.55,343.85 444.3,347.6C445.05,351.35 445.72,355.55 446.2,358.9C446.68,362.25 447.03,365.45 447.2,367.7C447.37,369.95 447.33,370.28 447.2,372.4C447.07,374.52 447.03,376.95 446.4,380.4C445.77,383.85 444.43,388.87 443.4,393.1C442.37,397.33 440.98,401.57 440.2,405.8C439.42,410.03 439.1,414.27 438.7,418.5C438.3,422.73 438,427.22 437.8,431.2C437.6,435.18 437.55,440.53 437.5,442.4L432.1,442.4C432.05,440.53 432,435.18 431.8,431.2C431.6,427.22 431.3,422.73 430.9,418.5C430.5,414.27 430.18,410.03 429.4,405.8C428.62,401.57 427.23,397.33 426.2,393.1C425.17,388.87 423.83,383.85 423.2,380.4C422.57,376.95 422.53,374.52 422.4,372.4C422.27,370.28 422.23,369.95 422.4,367.7C422.57,365.45 422.92,362.25 423.4,358.9C423.88,355.55 424.55,351.35 425.3,347.6C426.05,343.85 427.03,340.15 427.9,336.4C428.77,332.65 429.67,328.87 430.5,325.1C431.33,321.33 432.35,317.15 432.9,313.8C433.45,310.45 433.55,308.13 433.8,305C434.05,301.87 434.23,298.67 434.4,295C434.57,291.33 434.73,285 434.8,283Z" fill="#ff7f7a"/>
<line x1="422.4" y1="368.5" x2="447.2" y2="368.5" stroke="#a03c3a" stroke-width="1" stroke-opacity="0.55"/>
<line x1="422.4" y1="372.5" x2="447.2" y2="372.5" stroke="#3a1c1c" stroke-dasharray="1.4,0.9" stroke-width="1" stroke-opacity="0.7"/>
<line x1="429.96" y1="410.5" x2="439.64" y2="410.5" stroke="#a03c3a" stroke-width="1" stroke-opacity="0.55"/>
<circle cx="434.7" cy="364.9" r="2.5" fill="#000"/>
<circle cx="429.9" cy="372.4" r="2.5" fill="#000"/>
<circle cx="439.9" cy="372.4" r="2.5" fill="#000"/>
<circle cx="434.7" cy="378.8" r="2.5" fill="#000"/>
<circle cx="434.7" cy="442.1" r="2.5" fill="#000"/>
<g stroke="#000" stroke-width="1.9" fill="none">
<path d="M301.7,508.95V669.25"/>
<path d="M294.7,509.9H301.7"/>
<path d="M294.7,536.3H301.7"/>
<path d="M294.7,562.7H301.7"/>
<path d="M294.7,589.1H301.7"/>
<path d="M294.7,615.5H301.7"/>
<path d="M294.7,641.9H301.7"/>
<path d="M294.7,668.3H301.7"/>
<path d="M301.7,668.3H460.3"/>
<path d="M327.1,668.3V675.3"/>
<path d="M358.9,668.3V675.3"/>
<path d="M403.1,668.3V675.3"/>
<path d="M434.9,668.3V675.3"/>
</g>
<text transform="translate(291.9,514.7) scale(0.95,1)" font-size="13.8" text-anchor="end" class="b">750</text>
<text transform="translate(291.9,541.1) scale(0.95,1)" font-size="13.8" text-anchor="end" class="b">625</text>
<text transform="translate(291.9,567.5) scale(0.95,1)" font-size="13.8" text-anchor="end" class="b">500</text>
<text transform="translate(291.9,593.9) scale(0.95,1)" font-size="13.8" text-anchor="end" class="b">375</text>
<text transform="translate(291.9,620.3) scale(0.95,1)" font-size="13.8" text-anchor="end" class="b">250</text>
<text transform="translate(291.9,646.7) scale(0.95,1)" font-size="13.8" text-anchor="end" class="b">125</text>
<text transform="translate(291.9,673.1) scale(0.95,1)" font-size="13.8" text-anchor="end" class="b">0</text>
<text x="327.1" y="689.5" font-size="13" text-anchor="middle" class="b">CD</text>
<text x="358.9" y="689.5" font-size="13" text-anchor="middle" class="b">HFD</text>
<text x="403.1" y="689.5" font-size="13" text-anchor="middle" class="b">CD</text>
<text x="434.9" y="689.5" font-size="13" text-anchor="middle" class="b">HFD</text>
<text x="381.3" y="710.1" font-size="13" text-anchor="middle" class="b">Diets</text>
<text transform="translate(262.4,660.9) rotate(-90)" font-size="15" class="b" textLength="147.1" lengthAdjust="spacingAndGlyphs">Large deletions (x10<tspan dy="-6" font-size="11.5">-4</tspan><tspan dy="6">)</tspan></text>
<text transform="translate(231.8,518.4) scale(0.93,1)" font-size="16.5" class="b g">f</text>
<rect x="305.1" y="511.7" width="6.6" height="6.3" fill="#aaaaaa"/>
<rect x="305.1" y="526.3" width="6.6" height="6.3" fill="#ff7f7a"/>
<text transform="translate(317.9,519.6) scale(0.92,1)" font-size="14.2" class="b">B-DNA</text>
<text transform="translate(317.9,534.5) scale(0.92,1)" font-size="14.2" class="b">H-DNA</text>
<circle cx="316.3" cy="666.5" r="2.5" fill="#000"/>
<circle cx="321.5" cy="665.8" r="2.5" fill="#000"/>
<circle cx="327" cy="665.8" r="2.5" fill="#000"/>
<circle cx="332.2" cy="666.5" r="2.5" fill="#000"/>
<circle cx="337.4" cy="667.4" r="2.5" fill="#000"/>
<path d="M354,664.6H363.2V665.8H354Z" fill="#aaaaaa"/>
<path d="M366.6,661H371M366.6,662.3H371" stroke="#666" stroke-width="0.7"/>
<circle cx="348" cy="662.4" r="2.5" fill="#000"/>
<circle cx="353.2" cy="660.6" r="2.5" fill="#000"/>
<circle cx="358.6" cy="661.3" r="2.5" fill="#000"/>
<circle cx="363.8" cy="661.7" r="2.5" fill="#000"/>
<circle cx="369" cy="665.8" r="2.5" fill="#000"/>
<circle cx="392.6" cy="656.7" r="2.5" fill="#000"/>
<circle cx="399.4" cy="656.7" r="2.5" fill="#000"/>
<circle cx="406.4" cy="656.7" r="2.5" fill="#000"/>
<circle cx="413.2" cy="656.7" r="2.5" fill="#000"/>
<path d="M434.5,545.8C434.6,546.13 434.88,547.15 435.1,547.8C435.32,548.45 435.52,548.83 435.8,549.7C436.08,550.57 436.48,551.92 436.8,553C437.12,554.08 437.38,555.12 437.7,556.2C438.02,557.28 438.27,558.63 438.7,559.5C439.13,560.37 439.48,560.75 440.3,561.4C441.12,562.05 442.53,562.63 443.6,563.4C444.67,564.17 446.55,565.03 446.7,566C446.85,566.97 445.62,568.13 444.5,569.2C443.38,570.27 441.35,571.32 440,572.4C438.65,573.48 437.18,574.62 436.4,575.7C435.62,576.78 435.62,577.82 435.3,578.9C434.98,579.98 434.63,581.65 434.5,582.2L434.5,582.2C434.37,581.65 434.02,579.98 433.7,578.9C433.38,577.82 433.38,576.78 432.6,575.7C431.82,574.62 430.35,573.48 429,572.4C427.65,571.32 425.62,570.27 424.5,569.2C423.38,568.13 422.15,566.97 422.3,566C422.45,565.03 424.33,564.17 425.4,563.4C426.47,562.63 427.88,562.05 428.7,561.4C429.52,560.75 429.87,560.37 430.3,559.5C430.73,558.63 430.98,557.28 431.3,556.2C431.62,555.12 431.88,554.08 432.2,553C432.52,551.92 432.92,550.57 433.2,549.7C433.48,548.83 433.68,548.45 433.9,547.8C434.12,547.15 434.4,546.13 434.5,545.8Z" fill="#ff7f7a"/>
<line x1="428.95" y1="561.5" x2="440.05" y2="561.5" stroke="#a03c3a" stroke-width="1" stroke-opacity="0.55"/>
<line x1="423.4" y1="567.5" x2="445.6" y2="567.5" stroke="#3a1c1c" stroke-dasharray="1.4,0.9" stroke-width="1" stroke-opacity="0.7"/>
<circle cx="434.5" cy="556.2" r="2.5" fill="#000"/>
<circle cx="424.2" cy="568.6" r="2.5" fill="#000"/>
<circle cx="431" cy="566.3" r="2.5" fill="#000"/>
<circle cx="437.8" cy="567.6" r="2.5" fill="#000"/>
<circle cx="444.9" cy="567.6" r="2.5" fill="#000"/>
<g stroke="#000" stroke-width="1.9" fill="none">
<path d="M526.4,45.15V205.85"/>
<path d="M519.4,46.1H526.4"/>
<path d="M519.4,72.57H526.4"/>
<path d="M519.4,99.03H526.4"/>
<path d="M519.4,125.5H526.4"/>
<path d="M519.4,151.97H526.4"/>
<path d="M519.4,178.43H526.4"/>
<path d="M519.4,204.9H526.4"/>
<path d="M526.4,204.9H686"/>
<path d="M551.8,204.9V211.9"/>
<path d="M583.6,204.9V211.9"/>
<path d="M627.8,204.9V211.9"/>
<path d="M659.6,204.9V211.9"/>
</g>
<text transform="translate(516.6,50.9) scale(0.95,1)" font-size="13.8" text-anchor="end" class="b">90</text>
<text transform="translate(516.6,77.37) scale(0.95,1)" font-size="13.8" text-anchor="end" class="b">75</text>
<text transform="translate(516.6,103.83) scale(0.95,1)" font-size="13.8" text-anchor="end" class="b">60</text>
<text transform="translate(516.6,130.3) scale(0.95,1)" font-size="13.8" text-anchor="end" class="b">45</text>
<text transform="translate(516.6,156.77) scale(0.95,1)" font-size="13.8" text-anchor="end" class="b">30</text>
<text transform="translate(516.6,183.23) scale(0.95,1)" font-size="13.8" text-anchor="end" class="b">15</text>
<text transform="translate(516.6,209.7) scale(0.95,1)" font-size="13.8" text-anchor="end" class="b">0</text>
<text x="551.8" y="226.1" font-size="13" text-anchor="middle" class="b">CD</text>
<text x="583.6" y="226.1" font-size="13" text-anchor="middle" class="b">HFD</text>
<text x="627.8" y="226.1" font-size="13" text-anchor="middle" class="b">CD</text>
<text x="659.6" y="226.1" font-size="13" text-anchor="middle" class="b">HFD</text>
<text x="606" y="246.7" font-size="13" text-anchor="middle" class="b">Diets</text>
<text transform="translate(494.6,212.4) rotate(-90)" font-size="15" class="b" textLength="176.6" lengthAdjust="spacingAndGlyphs">Mutation Frequency (x10<tspan dy="-6" font-size="11.5">-4</tspan><tspan dy="6">)</tspan></text>
<text transform="translate(460.3,51) scale(0.93,1)" font-size="16.5" class="b g">g</text>
<rect x="529.8" y="49.1" width="6.6" height="6.3" fill="#aaaaaa"/>
<rect x="529.8" y="63.9" width="6.6" height="6.3" fill="#ff7f7a"/>
<text transform="translate(542.6,56.6) scale(0.92,1)" font-size="14.2" class="b">B-DNA</text>
<text transform="translate(542.6,71.3) scale(0.92,1)" font-size="14.2" class="b">H-DNA</text>
<path d="M551.6,192.5C551.77,192.67 552.02,193.17 552.6,193.5C553.18,193.83 554.4,194.17 555.1,194.5C555.8,194.83 556.72,195.17 556.8,195.5C556.88,195.83 556.22,196.08 555.6,196.5C554.98,196.92 553.77,197.5 553.1,198C552.43,198.5 551.85,199.25 551.6,199.5L551.6,199.5C551.35,199.25 550.77,198.5 550.1,198C549.43,197.5 548.22,196.92 547.6,196.5C546.98,196.08 546.32,195.83 546.4,195.5C546.48,195.17 547.4,194.83 548.1,194.5C548.8,194.17 550.02,193.83 550.6,193.5C551.18,193.17 551.43,192.67 551.6,192.5Z" fill="#aaaaaa"/>
<circle cx="541.3" cy="197.3" r="2.5" fill="#000"/>
<circle cx="547" cy="195.5" r="2.5" fill="#000"/>
<circle cx="552" cy="196.9" r="2.5" fill="#000"/>
<circle cx="557.2" cy="196.6" r="2.5" fill="#000"/>
<circle cx="562.4" cy="198.4" r="2.5" fill="#000"/>
<path d="M583.4,172C583.57,172.33 583.93,173.33 584.4,174C584.87,174.67 585.37,175.33 586.2,176C587.03,176.67 588.12,177.33 589.4,178C590.68,178.67 593.23,179.5 593.9,180C594.57,180.5 594.07,180.58 593.4,181C592.73,181.42 591.07,181.92 589.9,182.5C588.73,183.08 587.28,183.92 586.4,184.5C585.52,185.08 585.1,185.33 584.6,186C584.1,186.67 583.6,188.08 583.4,188.5L583.4,188.5C583.2,188.08 582.7,186.67 582.2,186C581.7,185.33 581.28,185.08 580.4,184.5C579.52,183.92 578.07,183.08 576.9,182.5C575.73,181.92 574.07,181.42 573.4,181C572.73,180.58 572.23,180.5 572.9,180C573.57,179.5 576.12,178.67 577.4,178C578.68,177.33 579.77,176.67 580.6,176C581.43,175.33 581.93,174.67 582.4,174C582.87,173.33 583.23,172.33 583.4,172Z" fill="#aaaaaa"/>
<line x1="573.05" y1="180.5" x2="593.75" y2="180.5" stroke="#222222" stroke-dasharray="1.4,0.9" stroke-width="1" stroke-opacity="0.7"/>
<circle cx="573" cy="176.9" r="2.5" fill="#000"/>
<circle cx="573" cy="183.3" r="2.5" fill="#000"/>
<circle cx="580.2" cy="178.8" r="2.5" fill="#000"/>
<circle cx="587" cy="182.6" r="2.5" fill="#000"/>
<circle cx="594" cy="180.3" r="2.5" fill="#000"/>
<path d="M627.5,179.2C627.7,179.42 628.12,180.07 628.7,180.5C629.28,180.93 630.03,181.38 631,181.8C631.97,182.22 633.42,182.67 634.5,183C635.58,183.33 637.33,183.53 637.5,183.8C637.67,184.07 636.33,184.23 635.5,184.6C634.67,184.97 633.33,185.52 632.5,186C631.67,186.48 631.08,187 630.5,187.5C629.92,188 629.5,188.28 629,189C628.5,189.72 627.75,191.33 627.5,191.8L627.5,191.8C627.25,191.33 626.5,189.72 626,189C625.5,188.28 625.08,188 624.5,187.5C623.92,187 623.33,186.48 622.5,186C621.67,185.52 620.33,184.97 619.5,184.6C618.67,184.23 617.33,184.07 617.5,183.8C617.67,183.53 619.42,183.33 620.5,183C621.58,182.67 623.03,182.22 624,181.8C624.97,181.38 625.72,180.93 626.3,180.5C626.88,180.07 627.3,179.42 627.5,179.2Z" fill="#ff7f7a"/>
<line x1="618.25" y1="183.5" x2="636.75" y2="183.5" stroke="#a03c3a" stroke-width="1" stroke-opacity="0.55"/>
<circle cx="617.6" cy="187.6" r="2.5" fill="#000"/>
<circle cx="624.4" cy="183.3" r="2.5" fill="#000"/>
<circle cx="631.4" cy="184.2" r="2.5" fill="#000"/>
<circle cx="638.2" cy="183.3" r="2.5" fill="#000"/>
<path d="M659.5,61.9C659.6,62.3 659.88,63.5 660.1,64.3C660.32,65.1 660.5,65.93 660.8,66.7C661.1,67.47 661.5,68.17 661.9,68.9C662.3,69.63 662.55,70 663.2,71.1C663.85,72.2 665,74.03 665.8,75.5C666.6,76.97 667.33,78.45 668,79.9C668.67,81.35 669.2,82.75 669.8,84.2C670.4,85.65 671.3,87.13 671.6,88.6C671.9,90.07 672.08,91.55 671.6,93C671.12,94.45 669.95,95.85 668.7,97.3C667.45,98.75 665.33,100.23 664.1,101.7C662.87,103.17 661.92,104.65 661.3,106.1C660.68,107.55 660.7,108.65 660.4,110.4C660.1,112.15 659.65,115.57 659.5,116.6L659.5,116.6C659.35,115.57 658.9,112.15 658.6,110.4C658.3,108.65 658.32,107.55 657.7,106.1C657.08,104.65 656.13,103.17 654.9,101.7C653.67,100.23 651.55,98.75 650.3,97.3C649.05,95.85 647.88,94.45 647.4,93C646.92,91.55 647.1,90.07 647.4,88.6C647.7,87.13 648.6,85.65 649.2,84.2C649.8,82.75 650.33,81.35 651,79.9C651.67,78.45 652.4,76.97 653.2,75.5C654,74.03 655.15,72.2 655.8,71.1C656.45,70 656.7,69.63 657.1,68.9C657.5,68.17 657.9,67.47 658.2,66.7C658.5,65.93 658.68,65.1 658.9,64.3C659.12,63.5 659.4,62.3 659.5,61.9Z" fill="#ff7f7a"/>
<line x1="650.58" y1="80.5" x2="668.42" y2="80.5" stroke="#a03c3a" stroke-width="1" stroke-opacity="0.55"/>
<line x1="647.4" y1="90.5" x2="671.6" y2="90.5" stroke="#3a1c1c" stroke-dasharray="1.4,0.9" stroke-width="1" stroke-opacity="0.7"/>
<line x1="649.02" y1="95.5" x2="669.98" y2="95.5" stroke="#a03c3a" stroke-width="1" stroke-opacity="0.55"/>
<circle cx="659.5" cy="77.2" r="2.5" fill="#000"/>
<circle cx="659.5" cy="84" r="2.5" fill="#000"/>
<circle cx="654.7" cy="89.9" r="2.5" fill="#000"/>
<circle cx="664.3" cy="93.8" r="2.5" fill="#000"/>
<circle cx="654.7" cy="96.5" r="2.5" fill="#000"/>
<g stroke="#000" stroke-width="1.9" fill="none">
<path d="M526.4,283.05V443.35"/>
<path d="M519.4,284H526.4"/>
<path d="M519.4,315.68H526.4"/>
<path d="M519.4,347.36H526.4"/>
<path d="M519.4,379.04H526.4"/>
<path d="M519.4,410.72H526.4"/>
<path d="M519.4,442.4H526.4"/>
<path d="M526.4,442.4H686"/>
<path d="M551.8,442.4V449.4"/>
<path d="M583.6,442.4V449.4"/>
<path d="M627.8,442.4V449.4"/>
<path d="M659.6,442.4V449.4"/>
</g>
<text transform="translate(516.6,288.8) scale(0.95,1)" font-size="13.8" text-anchor="end" class="b">20</text>
<text transform="translate(516.6,320.48) scale(0.95,1)" font-size="13.8" text-anchor="end" class="b">16</text>
<text transform="translate(516.6,352.16) scale(0.95,1)" font-size="13.8" text-anchor="end" class="b">12</text>
<text transform="translate(516.6,383.84) scale(0.95,1)" font-size="13.8" text-anchor="end" class="b">8</text>
<text transform="translate(516.6,415.52) scale(0.95,1)" font-size="13.8" text-anchor="end" class="b">4</text>
<text transform="translate(516.6,447.2) scale(0.95,1)" font-size="13.8" text-anchor="end" class="b">0</text>
<text x="551.8" y="463.6" font-size="13" text-anchor="middle" class="b">CD</text>
<text x="583.6" y="463.6" font-size="13" text-anchor="middle" class="b">HFD</text>
<text x="627.8" y="463.6" font-size="13" text-anchor="middle" class="b">CD</text>
<text x="659.6" y="463.6" font-size="13" text-anchor="middle" class="b">HFD</text>
<text x="606" y="484.2" font-size="13" text-anchor="middle" class="b">Diets</text>
<text transform="translate(494,438.6) rotate(-90)" font-size="15" class="b" textLength="154.1" lengthAdjust="spacingAndGlyphs">Point mutations (x10-4)</text>
<text transform="translate(460.1,293.4) scale(0.93,1)" font-size="16.5" class="b g">h</text>
<rect x="529.8" y="286.1" width="6.6" height="6.3" fill="#aaaaaa"/>
<rect x="529.8" y="300.8" width="6.6" height="6.3" fill="#ff7f7a"/>
<text transform="translate(542.6,293.9) scale(0.92,1)" font-size="14.2" class="b">B-DNA</text>
<text transform="translate(542.6,308.8) scale(0.92,1)" font-size="14.2" class="b">H-DNA</text>
<path d="M551.8,412.3C551.87,412.92 552.03,414.87 552.2,416C552.37,417.13 552.35,418.12 552.8,419.1C553.25,420.08 554.15,420.95 554.9,421.9C555.65,422.85 556.52,423.85 557.3,424.8C558.08,425.75 558.77,426.67 559.6,427.6C560.43,428.53 561.6,429.47 562.3,430.4C563,431.33 563.85,432.25 563.8,433.2C563.75,434.15 562.63,435.15 562,436.1C561.37,437.05 560.62,437.85 560,438.9C559.38,439.95 558.58,441.82 558.3,442.4L545.3,442.4C545.02,441.82 544.22,439.95 543.6,438.9C542.98,437.85 542.23,437.05 541.6,436.1C540.97,435.15 539.85,434.15 539.8,433.2C539.75,432.25 540.6,431.33 541.3,430.4C542,429.47 543.17,428.53 544,427.6C544.83,426.67 545.52,425.75 546.3,424.8C547.08,423.85 547.95,422.85 548.7,421.9C549.45,420.95 550.35,420.08 550.8,419.1C551.25,418.12 551.23,417.13 551.4,416C551.57,414.87 551.73,412.92 551.8,412.3Z" fill="#aaaaaa"/>
<line x1="541.97" y1="429.5" x2="561.62" y2="429.5" stroke="#5e5e5e" stroke-width="1" stroke-opacity="0.55"/>
<line x1="540.67" y1="434.5" x2="562.93" y2="434.5" stroke="#222222" stroke-dasharray="1.4,0.9" stroke-width="1" stroke-opacity="0.7"/>
<line x1="542.17" y1="436.5" x2="561.43" y2="436.5" stroke="#5e5e5e" stroke-width="1" stroke-opacity="0.55"/>
<circle cx="541.3" cy="430.8" r="2.5" fill="#000"/>
<circle cx="552" cy="426.7" r="2.5" fill="#000"/>
<circle cx="552" cy="435.3" r="2.5" fill="#000"/>
<circle cx="562.4" cy="434.6" r="2.5" fill="#000"/>
<circle cx="552" cy="441.9" r="2.5" fill="#000"/>
<path d="M583.6,303C583.73,303.83 584.03,306.33 584.4,308C584.77,309.67 585.27,311.33 585.8,313C586.33,314.67 586.97,316.37 587.6,318C588.23,319.63 588.93,321.13 589.6,322.8C590.27,324.47 590.97,326.18 591.6,328C592.23,329.82 592.85,331.58 593.4,333.7C593.95,335.82 594.48,337.78 594.9,340.7C595.32,343.62 595.78,347.98 595.9,351.2C596.02,354.42 595.82,357.22 595.6,360C595.38,362.78 595.05,365 594.6,367.9C594.15,370.8 593.52,374.05 592.9,377.4C592.28,380.75 591.53,384.35 590.9,388C590.27,391.65 589.68,395.63 589.1,399.3C588.52,402.97 587.95,406.37 587.4,410C586.85,413.63 586.25,417.6 585.8,421.1C585.35,424.6 585.07,427.72 584.7,431C584.33,434.28 583.78,439.17 583.6,440.8L583.6,440.8C583.42,439.17 582.87,434.28 582.5,431C582.13,427.72 581.85,424.6 581.4,421.1C580.95,417.6 580.35,413.63 579.8,410C579.25,406.37 578.68,402.97 578.1,399.3C577.52,395.63 576.93,391.65 576.3,388C575.67,384.35 574.92,380.75 574.3,377.4C573.68,374.05 573.05,370.8 572.6,367.9C572.15,365 571.82,362.78 571.6,360C571.38,357.22 571.18,354.42 571.3,351.2C571.42,347.98 571.88,343.62 572.3,340.7C572.72,337.78 573.25,335.82 573.8,333.7C574.35,331.58 574.97,329.82 575.6,328C576.23,326.18 576.93,324.47 577.6,322.8C578.27,321.13 578.97,319.63 579.6,318C580.23,316.37 580.87,314.67 581.4,313C581.93,311.33 582.43,309.67 582.8,308C583.17,306.33 583.47,303.83 583.6,303Z" fill="#aaaaaa"/>
<line x1="571.34" y1="352.5" x2="595.86" y2="352.5" stroke="#5e5e5e" stroke-width="1" stroke-opacity="0.55"/>
<line x1="571.39" y1="353.5" x2="595.81" y2="353.5" stroke="#222222" stroke-dasharray="1.4,0.9" stroke-width="1" stroke-opacity="0.7"/>
<line x1="576.98" y1="392.5" x2="590.22" y2="392.5" stroke="#5e5e5e" stroke-width="1" stroke-opacity="0.55"/>
<circle cx="573" cy="352" r="2.5" fill="#000"/>
<circle cx="583.6" cy="350.2" r="2.5" fill="#000"/>
<circle cx="594" cy="353.9" r="2.5" fill="#000"/>
<circle cx="583.6" cy="387.1" r="2.5" fill="#000"/>
<circle cx="583.6" cy="398" r="2.5" fill="#000"/>
<path d="M627.8,353C627.88,354.17 628.05,357.23 628.3,360C628.55,362.77 628.62,365.53 629.3,369.6C629.98,373.67 631.3,379.45 632.4,384.4C633.5,389.35 634.73,394.35 635.9,399.3C637.07,404.25 638.65,410.15 639.4,414.1C640.15,418.05 640.48,420.03 640.4,423C640.32,425.97 639.77,429.18 638.9,431.9C638.03,434.62 636.07,437.55 635.2,439.3C634.33,441.05 633.95,441.88 633.7,442.4L621.9,442.4C621.65,441.88 621.27,441.05 620.4,439.3C619.53,437.55 617.57,434.62 616.7,431.9C615.83,429.18 615.28,425.97 615.2,423C615.12,420.03 615.45,418.05 616.2,414.1C616.95,410.15 618.53,404.25 619.7,399.3C620.87,394.35 622.1,389.35 623.2,384.4C624.3,379.45 625.62,373.67 626.3,369.6C626.98,365.53 627.05,362.77 627.3,360C627.55,357.23 627.72,354.17 627.8,353Z" fill="#ff7f7a"/>
<line x1="619.01" y1="402.5" x2="636.59" y2="402.5" stroke="#a03c3a" stroke-width="1" stroke-opacity="0.55"/>
<line x1="615.29" y1="422.5" x2="640.31" y2="422.5" stroke="#3a1c1c" stroke-dasharray="1.4,0.9" stroke-width="1" stroke-opacity="0.7"/>
<line x1="616.57" y1="431.5" x2="639.03" y2="431.5" stroke="#a03c3a" stroke-width="1" stroke-opacity="0.55"/>
<circle cx="627.8" cy="396.6" r="2.5" fill="#000"/>
<circle cx="627.8" cy="419.3" r="2.5" fill="#000"/>
<circle cx="627.8" cy="425.1" r="2.5" fill="#000"/>
<circle cx="627.8" cy="432.8" r="2.5" fill="#000"/>
<path d="M659.4,308.2C659.5,309.17 659.73,311.97 660,314C660.27,316.03 660.52,317.62 661,320.4C661.48,323.18 662.15,327.28 662.9,330.7C663.65,334.12 664.62,337.5 665.5,340.9C666.38,344.3 667.52,347.7 668.2,351.1C668.88,354.5 669.05,356.18 669.6,361.3C670.15,366.42 671.12,376.68 671.5,381.8C671.88,386.92 672.05,388.6 671.9,392C671.75,395.4 671.32,398.78 670.6,402.2C669.88,405.62 668.78,409.08 667.6,412.5C666.42,415.92 664.63,419.3 663.5,422.7C662.37,426.1 661.48,429.85 660.8,432.9C660.12,435.95 659.63,439.65 659.4,441L659.4,441C659.17,439.65 658.68,435.95 658,432.9C657.32,429.85 656.43,426.1 655.3,422.7C654.17,419.3 652.38,415.92 651.2,412.5C650.02,409.08 648.92,405.62 648.2,402.2C647.48,398.78 647.05,395.4 646.9,392C646.75,388.6 646.92,386.92 647.3,381.8C647.68,376.68 648.65,366.42 649.2,361.3C649.75,356.18 649.92,354.5 650.6,351.1C651.28,347.7 652.42,344.3 653.3,340.9C654.18,337.5 655.15,334.12 655.9,330.7C656.65,327.28 657.32,323.18 657.8,320.4C658.28,317.62 658.53,316.03 658.8,314C659.07,311.97 659.3,309.17 659.4,308.2Z" fill="#ff7f7a"/>
<line x1="649.17" y1="361.5" x2="669.63" y2="361.5" stroke="#a03c3a" stroke-width="1" stroke-opacity="0.55"/>
<line x1="647" y1="389.5" x2="671.8" y2="389.5" stroke="#3a1c1c" stroke-dasharray="1.4,0.9" stroke-width="1" stroke-opacity="0.7"/>
<line x1="648.1" y1="401.5" x2="670.7" y2="401.5" stroke="#a03c3a" stroke-width="1" stroke-opacity="0.55"/>
<circle cx="659.4" cy="354.8" r="2.5" fill="#000"/>
<circle cx="659.4" cy="367.2" r="2.5" fill="#000"/>
<circle cx="659.4" cy="389.4" r="2.5" fill="#000"/>
<circle cx="654.5" cy="401.8" r="2.5" fill="#000"/>
<circle cx="664.2" cy="401.8" r="2.5" fill="#000"/>
<g stroke="#000" stroke-width="1.9" fill="none">
<path d="M526.4,508.95V669.25"/>
<path d="M519.4,509.9H526.4"/>
<path d="M519.4,536.3H526.4"/>
<path d="M519.4,562.7H526.4"/>
<path d="M519.4,589.1H526.4"/>
<path d="M519.4,615.5H526.4"/>
<path d="M519.4,641.9H526.4"/>
<path d="M519.4,668.3H526.4"/>
<path d="M526.4,668.3H686"/>
<path d="M551.8,668.3V675.3"/>
<path d="M583.6,668.3V675.3"/>
<path d="M627.8,668.3V675.3"/>
<path d="M659.6,668.3V675.3"/>
</g>
<text transform="translate(516.6,514.7) scale(0.95,1)" font-size="13.8" text-anchor="end" class="b">90</text>
<text transform="translate(516.6,541.1) scale(0.95,1)" font-size="13.8" text-anchor="end" class="b">75</text>
<text transform="translate(516.6,567.5) scale(0.95,1)" font-size="13.8" text-anchor="end" class="b">60</text>
<text transform="translate(516.6,593.9) scale(0.95,1)" font-size="13.8" text-anchor="end" class="b">45</text>
<text transform="translate(516.6,620.3) scale(0.95,1)" font-size="13.8" text-anchor="end" class="b">30</text>
<text transform="translate(516.6,646.7) scale(0.95,1)" font-size="13.8" text-anchor="end" class="b">15</text>
<text transform="translate(516.6,673.1) scale(0.95,1)" font-size="13.8" text-anchor="end" class="b">0</text>
<text x="551.8" y="689.5" font-size="13" text-anchor="middle" class="b">CD</text>
<text x="583.6" y="689.5" font-size="13" text-anchor="middle" class="b">HFD</text>
<text x="627.8" y="689.5" font-size="13" text-anchor="middle" class="b">CD</text>
<text x="659.6" y="689.5" font-size="13" text-anchor="middle" class="b">HFD</text>
<text x="606" y="710.1" font-size="13" text-anchor="middle" class="b">Diets</text>
<text transform="translate(494.6,660.9) rotate(-90)" font-size="15" class="b" textLength="146.9" lengthAdjust="spacingAndGlyphs">Large deletions (x10<tspan dy="-6" font-size="11.5">-4</tspan><tspan dy="6">)</tspan></text>
<text transform="translate(464.7,518.4) scale(0.93,1)" font-size="16.5" class="b g">i</text>
<rect x="529.8" y="511.7" width="6.6" height="6.3" fill="#aaaaaa"/>
<rect x="529.8" y="526.3" width="6.6" height="6.3" fill="#ff7f7a"/>
<text transform="translate(542.6,519.6) scale(0.92,1)" font-size="14.2" class="b">B-DNA</text>
<text transform="translate(542.6,534.5) scale(0.92,1)" font-size="14.2" class="b">H-DNA</text>
<path d="M557.5,662.9H564.6V663.8H557.5Z" fill="#999"/>
<path d="M552,664.5C552.5,664.67 554,665.17 555,665.5C556,665.83 557.33,666.03 558,666.5C558.67,666.97 558.83,668 559,668.3L545,668.3C545.17,668 545.33,666.97 546,666.5C546.67,666.03 548,665.83 549,665.5C550,665.17 551.5,664.67 552,664.5Z" fill="#aaaaaa"/>
<circle cx="541.3" cy="664.5" r="2.5" fill="#000"/>
<circle cx="546.5" cy="662.5" r="2.5" fill="#000"/>
<circle cx="552" cy="663.4" r="2.5" fill="#000"/>
<circle cx="557.2" cy="663.4" r="2.5" fill="#000"/>
<circle cx="562.4" cy="667.5" r="2.5" fill="#000"/>
<path d="M583.4,648.1C583.53,648.42 583.7,649.35 584.2,650C584.7,650.65 585.62,651.42 586.4,652C587.18,652.58 588.22,653.05 588.9,653.5C589.58,653.95 590.5,654.28 590.5,654.7C590.5,655.12 589.58,655.53 588.9,656C588.22,656.47 586.98,657 586.4,657.5C585.82,658 585.12,658.52 585.4,659C585.68,659.48 587.9,659.98 588.1,660.4C588.3,660.82 586.88,661.07 586.6,661.5C586.32,661.93 585.93,662.53 586.4,663C586.87,663.47 589.32,663.8 589.4,664.3C589.48,664.8 587.48,665.33 586.9,666C586.32,666.67 586.07,667.92 585.9,668.3L580.9,668.3C580.73,667.92 580.48,666.67 579.9,666C579.32,665.33 577.32,664.8 577.4,664.3C577.48,663.8 579.93,663.47 580.4,663C580.87,662.53 580.48,661.93 580.2,661.5C579.92,661.07 578.5,660.82 578.7,660.4C578.9,659.98 581.12,659.48 581.4,659C581.68,658.52 580.98,658 580.4,657.5C579.82,657 578.58,656.47 577.9,656C577.22,655.53 576.3,655.12 576.3,654.7C576.3,654.28 577.22,653.95 577.9,653.5C578.58,653.05 579.62,652.58 580.4,652C581.18,651.42 582.1,650.65 582.6,650C583.1,649.35 583.27,648.42 583.4,648.1Z" fill="#aaaaaa"/>
<line x1="575.8" y1="664.5" x2="591.9" y2="664.5" stroke="#333" stroke-width="1" stroke-dasharray="1.4,0.9" stroke-opacity="0.8"/>
<circle cx="573" cy="652.8" r="2.5" fill="#000"/>
<circle cx="583.6" cy="656.2" r="2.5" fill="#000"/>
<circle cx="573" cy="664.1" r="2.5" fill="#000"/>
<circle cx="583.6" cy="664.1" r="2.5" fill="#000"/>
<circle cx="594" cy="664.1" r="2.5" fill="#000"/>
<path d="M627.6,642.6C627.73,642.8 627.92,643.38 628.4,643.8C628.88,644.22 629.72,644.67 630.5,645.1C631.28,645.53 632.25,645.98 633.1,646.4C633.95,646.82 634.88,647.2 635.6,647.6C636.32,648 636.85,648.38 637.4,648.8C637.95,649.22 638.5,649.6 638.9,650.1C639.3,650.6 639.88,651.25 639.8,651.8C639.72,652.35 638.97,652.85 638.4,653.4C637.83,653.95 637.07,654.53 636.4,655.1C635.73,655.67 635.03,656.23 634.4,656.8C633.77,657.37 633.13,657.93 632.6,658.5C632.07,659.07 631.62,659.63 631.2,660.2C630.78,660.77 630.5,661.27 630.1,661.9C629.7,662.53 629.22,663.32 628.8,664C628.38,664.68 627.8,665.67 627.6,666L627.6,666C627.4,665.67 626.82,664.68 626.4,664C625.98,663.32 625.5,662.53 625.1,661.9C624.7,661.27 624.42,660.77 624,660.2C623.58,659.63 623.13,659.07 622.6,658.5C622.07,657.93 621.43,657.37 620.8,656.8C620.17,656.23 619.47,655.67 618.8,655.1C618.13,654.53 617.37,653.95 616.8,653.4C616.23,652.85 615.48,652.35 615.4,651.8C615.32,651.25 615.9,650.6 616.3,650.1C616.7,649.6 617.25,649.22 617.8,648.8C618.35,648.38 618.88,648 619.6,647.6C620.32,647.2 621.25,646.82 622.1,646.4C622.95,645.98 623.92,645.53 624.7,645.1C625.48,644.67 626.32,644.22 626.8,643.8C627.28,643.38 627.47,642.8 627.6,642.6Z" fill="#ff7f7a"/>
<line x1="616.09" y1="650.5" x2="639.11" y2="650.5" stroke="#a03c3a" stroke-width="1" stroke-opacity="0.55"/>
<line x1="615.84" y1="652.5" x2="639.36" y2="652.5" stroke="#3a1c1c" stroke-dasharray="1.4,0.9" stroke-width="1" stroke-opacity="0.7"/>
<line x1="619.27" y1="655.5" x2="635.93" y2="655.5" stroke="#a03c3a" stroke-width="1" stroke-opacity="0.55"/>
<circle cx="617.6" cy="650.1" r="2.5" fill="#000"/>
<circle cx="627.8" cy="652.3" r="2.5" fill="#000"/>
<circle cx="638.2" cy="651.6" r="2.5" fill="#000"/>
<circle cx="627.8" cy="657.8" r="2.5" fill="#000"/>
<path d="M659.5,549.5C659.72,549.92 660.15,551.18 660.8,552C661.45,552.82 662.37,553.62 663.4,554.4C664.43,555.18 665.85,555.93 667,556.7C668.15,557.47 669.45,558.03 670.3,559C671.15,559.97 671.93,561.52 672.1,562.5C672.27,563.48 671.83,563.92 671.3,564.9C670.77,565.88 669.75,567.23 668.9,568.4C668.05,569.57 667.15,570.73 666.2,571.9C665.25,573.07 664.05,574.43 663.2,575.4C662.35,576.37 661.72,576.72 661.1,577.7C660.48,578.68 659.77,580.7 659.5,581.3L659.5,581.3C659.23,580.7 658.52,578.68 657.9,577.7C657.28,576.72 656.65,576.37 655.8,575.4C654.95,574.43 653.75,573.07 652.8,571.9C651.85,570.73 650.95,569.57 650.1,568.4C649.25,567.23 648.23,565.88 647.7,564.9C647.17,563.92 646.73,563.48 646.9,562.5C647.07,561.52 647.85,559.97 648.7,559C649.55,558.03 650.85,557.47 652,556.7C653.15,555.93 654.57,555.18 655.6,554.4C656.63,553.62 657.55,552.82 658.2,552C658.85,551.18 659.28,549.92 659.5,549.5Z" fill="#ff7f7a"/>
<line x1="647.93" y1="560.5" x2="671.07" y2="560.5" stroke="#a03c3a" stroke-width="1" stroke-opacity="0.55"/>
<line x1="647.27" y1="563.5" x2="671.73" y2="563.5" stroke="#3a1c1c" stroke-dasharray="1.4,0.9" stroke-width="1" stroke-opacity="0.7"/>
<line x1="650.56" y1="569.5" x2="668.44" y2="569.5" stroke="#a03c3a" stroke-width="1" stroke-opacity="0.55"/>
<circle cx="649.2" cy="560.5" r="2.5" fill="#000"/>
<circle cx="670.1" cy="560.5" r="2.5" fill="#000"/>
<circle cx="659.8" cy="563.4" r="2.5" fill="#000"/>
<circle cx="664.9" cy="568.4" r="2.5" fill="#000"/>
<circle cx="654.5" cy="571.2" r="2.5" fill="#000"/>
<rect x="0" y="281.4" width="0.9" height="11.8" fill="#9a9a9a"/>
<path d="M132.4,46V42.4 H205.6 V46" fill="none" stroke="#1a1a1a" stroke-width="1.2"/>
<path d="M157.22,33.45L157.22,38.95M159.61,34.83L154.84,37.58M159.61,37.58L154.84,34.83M164.07,33.45L164.07,38.95M166.46,34.83L161.69,37.58M166.46,37.58L161.69,34.83M170.93,33.45L170.93,38.95M173.31,34.83L168.54,37.58M173.31,37.58L168.54,34.83M177.78,33.45L177.78,38.95M180.16,34.83L175.39,37.58M180.16,37.58L175.39,34.83" stroke="#000" stroke-width="1.25" stroke-linecap="round" fill="none"/>
<g fill="#000"><circle cx="157.22" cy="36.2" r="1.35"/><circle cx="164.07" cy="36.2" r="1.35"/><circle cx="170.93" cy="36.2" r="1.35"/><circle cx="177.78" cy="36.2" r="1.35"/></g>
<path d="M173.2,63.7V60.1 H205.6 V63.7" fill="none" stroke="#1a1a1a" stroke-width="1.2"/>
<path d="M177.03,50.05L177.03,55.55M179.41,51.42L174.64,54.17M179.41,54.17L174.64,51.42M183.88,50.05L183.88,55.55M186.26,51.42L181.49,54.17M186.26,54.17L181.49,51.42M190.73,50.05L190.73,55.55M193.11,51.42L188.34,54.17M193.11,54.17L188.34,51.42M197.58,50.05L197.58,55.55M199.96,51.42L195.19,54.17M199.96,54.17L195.19,51.42" stroke="#000" stroke-width="1.25" stroke-linecap="round" fill="none"/>
<g fill="#000"><circle cx="177.03" cy="52.8" r="1.35"/><circle cx="183.88" cy="52.8" r="1.35"/><circle cx="190.73" cy="52.8" r="1.35"/><circle cx="197.58" cy="52.8" r="1.35"/></g>
<path d="M101.6,127.5V123.9 H173.6 V127.5" fill="none" stroke="#1a1a1a" stroke-width="1.2"/>
<path d="M125.12,114.1L125.12,119.6M127.51,115.47L122.74,118.22M127.51,118.22L122.74,115.47M131.97,114.1L131.97,119.6M134.36,115.47L129.59,118.22M134.36,118.22L129.59,115.47M138.83,114.1L138.83,119.6M141.21,115.47L136.44,118.22M141.21,118.22L136.44,115.47M145.68,114.1L145.68,119.6M148.06,115.47L143.29,118.22M148.06,118.22L143.29,115.47" stroke="#000" stroke-width="1.25" stroke-linecap="round" fill="none"/>
<g fill="#000"><circle cx="125.12" cy="116.85" r="1.35"/><circle cx="131.97" cy="116.85" r="1.35"/><circle cx="138.83" cy="116.85" r="1.35"/><circle cx="145.68" cy="116.85" r="1.35"/></g>
<path d="M101.6,165.5V161.9 H129.5 V165.5" fill="none" stroke="#1a1a1a" stroke-width="1.2"/>
<path d="M111.88,152.65L111.88,158.15M114.26,154.03L109.49,156.78M114.26,156.78L109.49,154.03M118.72,152.65L118.72,158.15M121.11,154.03L116.34,156.78M121.11,156.78L116.34,154.03" stroke="#000" stroke-width="1.25" stroke-linecap="round" fill="none"/>
<g fill="#000"><circle cx="111.88" cy="155.4" r="1.35"/><circle cx="118.72" cy="155.4" r="1.35"/></g>
<path d="M132.4,282.9V279.3 H204.6 V282.9" fill="none" stroke="#1a1a1a" stroke-width="1.2"/>
<path d="M160.05,270.05L160.05,275.55M162.43,271.43L157.67,274.18M162.43,274.18L157.67,271.43M166.9,270.05L166.9,275.55M169.28,271.43L164.52,274.18M169.28,274.18L164.52,271.43M173.75,270.05L173.75,275.55M176.13,271.43L171.37,274.18M176.13,274.18L171.37,271.43" stroke="#000" stroke-width="1.25" stroke-linecap="round" fill="none"/>
<g fill="#000"><circle cx="160.05" cy="272.8" r="1.35"/><circle cx="166.9" cy="272.8" r="1.35"/><circle cx="173.75" cy="272.8" r="1.35"/></g>
<path d="M172.5,299.7V296.1 H204.6 V299.7" fill="none" stroke="#1a1a1a" stroke-width="1.2"/>
<path d="M184.47,286.75L184.47,292.25M186.86,288.12L182.09,290.88M186.86,290.88L182.09,288.12M191.33,286.75L191.33,292.25M193.71,288.12L188.94,290.88M193.71,290.88L188.94,288.12" stroke="#000" stroke-width="1.25" stroke-linecap="round" fill="none"/>
<g fill="#000"><circle cx="184.47" cy="289.5" r="1.35"/><circle cx="191.33" cy="289.5" r="1.35"/></g>
<path d="M132,515.95V512.35 H204.6 V515.95" fill="none" stroke="#1a1a1a" stroke-width="1.2"/>
<path d="M156.03,502.65L156.03,508.15M158.41,504.02L153.64,506.77M158.41,506.77L153.64,504.02M162.88,502.65L162.88,508.15M165.26,504.02L160.49,506.77M165.26,506.77L160.49,504.02M169.73,502.65L169.73,508.15M172.11,504.02L167.34,506.77M172.11,506.77L167.34,504.02M176.58,502.65L176.58,508.15M178.96,504.02L174.19,506.77M178.96,506.77L174.19,504.02" stroke="#000" stroke-width="1.25" stroke-linecap="round" fill="none"/>
<g fill="#000"><circle cx="156.03" cy="505.4" r="1.35"/><circle cx="162.88" cy="505.4" r="1.35"/><circle cx="169.73" cy="505.4" r="1.35"/><circle cx="176.58" cy="505.4" r="1.35"/></g>
<path d="M171.3,534.4V530.8 H204.6 V534.4" fill="none" stroke="#1a1a1a" stroke-width="1.2"/>
<path d="M182.15,521.45L182.15,526.95M184.53,522.83L179.77,525.58M184.53,525.58L179.77,522.83M189,521.45L189,526.95M191.38,522.83L186.62,525.58M191.38,525.58L186.62,522.83M195.85,521.45L195.85,526.95M198.23,522.83L193.47,525.58M198.23,525.58L193.47,522.83" stroke="#000" stroke-width="1.25" stroke-linecap="round" fill="none"/>
<g fill="#000"><circle cx="182.15" cy="524.2" r="1.35"/><circle cx="189" cy="524.2" r="1.35"/><circle cx="195.85" cy="524.2" r="1.35"/></g>
<path d="M102.1,548V544.4 H174 V548" fill="none" stroke="#1a1a1a" stroke-width="1.2"/>
<path d="M137.3,534.75L137.3,540.25M139.68,536.12L134.92,538.88M139.68,538.88L134.92,536.12" stroke="#000" stroke-width="1.25" stroke-linecap="round" fill="none"/>
<g fill="#000"><circle cx="137.3" cy="537.5" r="1.35"/></g>
<path d="M362.4,36V32.4 H434.6 V36" fill="none" stroke="#1a1a1a" stroke-width="1.2"/>
<path d="M386.03,23.05L386.03,28.55M388.41,24.43L383.64,27.18M388.41,27.18L383.64,24.43M392.88,23.05L392.88,28.55M395.26,24.43L390.49,27.18M395.26,27.18L390.49,24.43M399.73,23.05L399.73,28.55M402.11,24.43L397.34,27.18M402.11,27.18L397.34,24.43M406.57,23.05L406.57,28.55M408.96,24.43L404.19,27.18M408.96,27.18L404.19,24.43" stroke="#000" stroke-width="1.25" stroke-linecap="round" fill="none"/>
<g fill="#000"><circle cx="386.03" cy="25.8" r="1.35"/><circle cx="392.88" cy="25.8" r="1.35"/><circle cx="399.73" cy="25.8" r="1.35"/><circle cx="406.57" cy="25.8" r="1.35"/></g>
<path d="M402.5,53.3V49.7 H434.6 V53.3" fill="none" stroke="#1a1a1a" stroke-width="1.2"/>
<path d="M406.33,40.55L406.33,46.05M408.71,41.92L403.94,44.67M408.71,44.67L403.94,41.92M413.18,40.55L413.18,46.05M415.56,41.92L410.79,44.67M415.56,44.67L410.79,41.92M420.03,40.55L420.03,46.05M422.41,41.92L417.64,44.67M422.41,44.67L417.64,41.92M426.88,40.55L426.88,46.05M429.26,41.92L424.49,44.67M429.26,44.67L424.49,41.92" stroke="#000" stroke-width="1.25" stroke-linecap="round" fill="none"/>
<g fill="#000"><circle cx="406.33" cy="43.3" r="1.35"/><circle cx="413.18" cy="43.3" r="1.35"/><circle cx="420.03" cy="43.3" r="1.35"/><circle cx="426.88" cy="43.3" r="1.35"/></g>
<path d="M331.4,187.7V184.1 H359.3 V187.7" fill="none" stroke="#1a1a1a" stroke-width="1.2"/>
<path d="M345.2,174.05L345.2,179.55M347.58,175.43L342.82,178.18M347.58,178.18L342.82,175.43" stroke="#000" stroke-width="1.25" stroke-linecap="round" fill="none"/>
<g fill="#000"><circle cx="345.2" cy="176.8" r="1.35"/></g>
<path d="M331.4,168.9V165.3 H402.6 V168.9" fill="none" stroke="#1a1a1a" stroke-width="1.2"/>
<path d="M367,154.75L367,160.25M369.38,156.12L364.62,158.88M369.38,158.88L364.62,156.12" stroke="#000" stroke-width="1.25" stroke-linecap="round" fill="none"/>
<g fill="#000"><circle cx="367" cy="157.5" r="1.35"/></g>
<path d="M402.9,299.4V295.8 H435 V299.4" fill="none" stroke="#1a1a1a" stroke-width="1.2"/>
<path d="M410.25,287.4L410.25,292.9M412.63,288.77L407.87,291.52M412.63,291.52L407.87,288.77M417.1,287.4L417.1,292.9M419.48,288.77L414.72,291.52M419.48,291.52L414.72,288.77M423.95,287.4L423.95,292.9M426.33,288.77L421.57,291.52M426.33,291.52L421.57,288.77" stroke="#000" stroke-width="1.25" stroke-linecap="round" fill="none"/>
<g fill="#000"><circle cx="410.25" cy="290.15" r="1.35"/><circle cx="417.1" cy="290.15" r="1.35"/><circle cx="423.95" cy="290.15" r="1.35"/></g>
<path d="M331.5,369.3V365.7 H359.3 V369.3" fill="none" stroke="#1a1a1a" stroke-width="1.2"/>
<path d="M345.1,357.55L345.1,363.05M347.48,358.93L342.72,361.68M347.48,361.68L342.72,358.93" stroke="#000" stroke-width="1.25" stroke-linecap="round" fill="none"/>
<g fill="#000"><circle cx="345.1" cy="360.3" r="1.35"/></g>
<path d="M361.6,528.7V525.1 H434 V528.7" fill="none" stroke="#1a1a1a" stroke-width="1.2"/>
<path d="M385.12,515.3L385.12,520.8M387.51,516.67L382.74,519.42M387.51,519.42L382.74,516.67M391.97,515.3L391.97,520.8M394.36,516.67L389.59,519.42M394.36,519.42L389.59,516.67M398.82,515.3L398.82,520.8M401.21,516.67L396.44,519.42M401.21,519.42L396.44,516.67M405.67,515.3L405.67,520.8M408.06,516.67L403.29,519.42M408.06,519.42L403.29,516.67" stroke="#000" stroke-width="1.25" stroke-linecap="round" fill="none"/>
<g fill="#000"><circle cx="385.12" cy="518.05" r="1.35"/><circle cx="391.97" cy="518.05" r="1.35"/><circle cx="398.82" cy="518.05" r="1.35"/><circle cx="405.67" cy="518.05" r="1.35"/></g>
<path d="M401.3,545.1V541.5 H434 V545.1" fill="none" stroke="#1a1a1a" stroke-width="1.2"/>
<path d="M410.1,532.75L410.1,538.25M412.48,534.12L407.72,536.88M412.48,536.88L407.72,534.12M416.95,532.75L416.95,538.25M419.33,534.12L414.57,536.88M419.33,536.88L414.57,534.12M423.8,532.75L423.8,538.25M426.18,534.12L421.42,536.88M426.18,536.88L421.42,534.12" stroke="#000" stroke-width="1.25" stroke-linecap="round" fill="none"/>
<g fill="#000"><circle cx="410.1" cy="535.5" r="1.35"/><circle cx="416.95" cy="535.5" r="1.35"/><circle cx="423.8" cy="535.5" r="1.35"/></g>
<path d="M332,651.9V648.3 H399.6 V651.9" fill="none" stroke="#1a1a1a" stroke-width="1.2"/>
<path d="M357.45,638.75L357.45,644.25M359.83,640.12L355.07,642.88M359.83,642.88L355.07,640.12M364.3,638.75L364.3,644.25M366.68,640.12L361.92,642.88M366.68,642.88L361.92,640.12M371.15,638.75L371.15,644.25M373.53,640.12L368.77,642.88M373.53,642.88L368.77,640.12" stroke="#000" stroke-width="1.25" stroke-linecap="round" fill="none"/>
<g fill="#000"><circle cx="357.45" cy="641.5" r="1.35"/><circle cx="364.3" cy="641.5" r="1.35"/><circle cx="371.15" cy="641.5" r="1.35"/></g>
<path d="M586.8,41.8V38.2 H659.6 V41.8" fill="none" stroke="#1a1a1a" stroke-width="1.2"/>
<path d="M610.98,29.55L610.98,35.05M613.36,30.92L608.59,33.67M613.36,33.67L608.59,30.92M617.83,29.55L617.83,35.05M620.21,30.92L615.44,33.67M620.21,33.67L615.44,30.92M624.67,29.55L624.67,35.05M627.06,30.92L622.29,33.67M627.06,33.67L622.29,30.92M631.52,29.55L631.52,35.05M633.91,30.92L629.14,33.67M633.91,33.67L629.14,30.92" stroke="#000" stroke-width="1.25" stroke-linecap="round" fill="none"/>
<g fill="#000"><circle cx="610.98" cy="32.3" r="1.35"/><circle cx="617.83" cy="32.3" r="1.35"/><circle cx="624.67" cy="32.3" r="1.35"/><circle cx="631.52" cy="32.3" r="1.35"/></g>
<path d="M627.5,60.9V57.3 H659.6 V60.9" fill="none" stroke="#1a1a1a" stroke-width="1.2"/>
<path d="M632.33,48.85L632.33,54.35M634.71,50.23L629.94,52.98M634.71,52.98L629.94,50.23M639.18,48.85L639.18,54.35M641.56,50.23L636.79,52.98M641.56,52.98L636.79,50.23M646.02,48.85L646.02,54.35M648.41,50.23L643.64,52.98M648.41,52.98L643.64,50.23M652.88,48.85L652.88,54.35M655.26,50.23L650.49,52.98M655.26,52.98L650.49,50.23" stroke="#000" stroke-width="1.25" stroke-linecap="round" fill="none"/>
<g fill="#000"><circle cx="632.33" cy="51.6" r="1.35"/><circle cx="639.18" cy="51.6" r="1.35"/><circle cx="646.02" cy="51.6" r="1.35"/><circle cx="652.88" cy="51.6" r="1.35"/></g>
<path d="M547.2,150.7V147.1 H624.5 V150.7" fill="none" stroke="#1a1a1a" stroke-width="1.2"/>
<path d="M581.93,137.95L581.93,143.45M584.31,139.32L579.54,142.07M584.31,142.07L579.54,139.32M588.77,137.95L588.77,143.45M591.16,139.32L586.39,142.07M591.16,142.07L586.39,139.32" stroke="#000" stroke-width="1.25" stroke-linecap="round" fill="none"/>
<g fill="#000"><circle cx="581.93" cy="140.7" r="1.35"/><circle cx="588.77" cy="140.7" r="1.35"/></g>
<path d="M545.5,170V166.4 H583.4 V170" fill="none" stroke="#1a1a1a" stroke-width="1.2"/>
<path d="M552.88,156.7L552.88,162.2M555.26,158.07L550.49,160.82M555.26,160.82L550.49,158.07M559.73,156.7L559.73,162.2M562.11,158.07L557.34,160.82M562.11,160.82L557.34,158.07M566.57,156.7L566.57,162.2M568.96,158.07L564.19,160.82M568.96,160.82L564.19,158.07M573.42,156.7L573.42,162.2M575.81,158.07L571.04,160.82M575.81,160.82L571.04,158.07" stroke="#000" stroke-width="1.25" stroke-linecap="round" fill="none"/>
<g fill="#000"><circle cx="552.88" cy="159.45" r="1.35"/><circle cx="559.73" cy="159.45" r="1.35"/><circle cx="566.57" cy="159.45" r="1.35"/><circle cx="573.42" cy="159.45" r="1.35"/></g>
<path d="M541.7,283.1V279.5 H584 V283.1" fill="none" stroke="#1a1a1a" stroke-width="1.2"/>
<path d="M550.27,269.65L550.27,275.15M552.66,271.02L547.89,273.77M552.66,273.77L547.89,271.02M557.12,269.65L557.12,275.15M559.51,271.02L554.74,273.77M559.51,273.77L554.74,271.02M563.97,269.65L563.97,275.15M566.36,271.02L561.59,273.77M566.36,273.77L561.59,271.02M570.82,269.65L570.82,275.15M573.21,271.02L568.44,273.77M573.21,273.77L568.44,271.02" stroke="#000" stroke-width="1.25" stroke-linecap="round" fill="none"/>
<g fill="#000"><circle cx="550.27" cy="272.4" r="1.35"/><circle cx="557.12" cy="272.4" r="1.35"/><circle cx="563.97" cy="272.4" r="1.35"/><circle cx="570.82" cy="272.4" r="1.35"/></g>
<path d="M627.6,310.1V306.5 H659.4 V310.1" fill="none" stroke="#1a1a1a" stroke-width="1.2"/>
<path d="M639.03,297.85L639.03,303.35M641.41,299.23L636.64,301.98M641.41,301.98L636.64,299.23M645.88,297.85L645.88,303.35M648.26,299.23L643.49,301.98M648.26,301.98L643.49,299.23" stroke="#000" stroke-width="1.25" stroke-linecap="round" fill="none"/>
<g fill="#000"><circle cx="639.03" cy="300.6" r="1.35"/><circle cx="645.88" cy="300.6" r="1.35"/></g>
<path d="M586.6,527.8V524.2 H659.6 V527.8" fill="none" stroke="#1a1a1a" stroke-width="1.2"/>
<path d="M610.73,515.45L610.73,520.95M613.11,516.83L608.34,519.58M613.11,519.58L608.34,516.83M617.58,515.45L617.58,520.95M619.96,516.83L615.19,519.58M619.96,519.58L615.19,516.83M624.42,515.45L624.42,520.95M626.81,516.83L622.04,519.58M626.81,519.58L622.04,516.83M631.27,515.45L631.27,520.95M633.66,516.83L628.89,519.58M633.66,519.58L628.89,516.83" stroke="#000" stroke-width="1.25" stroke-linecap="round" fill="none"/>
<g fill="#000"><circle cx="610.73" cy="518.2" r="1.35"/><circle cx="617.58" cy="518.2" r="1.35"/><circle cx="624.42" cy="518.2" r="1.35"/><circle cx="631.27" cy="518.2" r="1.35"/></g>
<path d="M626.3,549.5V545.9 H659.6 V549.5" fill="none" stroke="#1a1a1a" stroke-width="1.2"/>
<path d="M630.48,534.85L630.48,540.35M632.86,536.23L628.09,538.98M632.86,538.98L628.09,536.23M637.33,534.85L637.33,540.35M639.71,536.23L634.94,538.98M639.71,538.98L634.94,536.23M644.17,534.85L644.17,540.35M646.56,536.23L641.79,538.98M646.56,538.98L641.79,536.23M651.02,534.85L651.02,540.35M653.41,536.23L648.64,538.98M653.41,538.98L648.64,536.23" stroke="#000" stroke-width="1.25" stroke-linecap="round" fill="none"/>
<g fill="#000"><circle cx="630.48" cy="537.6" r="1.35"/><circle cx="637.33" cy="537.6" r="1.35"/><circle cx="644.17" cy="537.6" r="1.35"/><circle cx="651.02" cy="537.6" r="1.35"/></g>
<path d="M553.3,638.9V635.3 H626.9 V638.9" fill="none" stroke="#1a1a1a" stroke-width="1.2"/>
<path d="M585.58,626.65L585.58,632.15M587.96,628.02L583.19,630.77M587.96,630.77L583.19,628.02M592.42,626.65L592.42,632.15M594.81,628.02L590.04,630.77M594.81,630.77L590.04,628.02" stroke="#000" stroke-width="1.25" stroke-linecap="round" fill="none"/>
<g fill="#000"><circle cx="585.58" cy="629.4" r="1.35"/><circle cx="592.42" cy="629.4" r="1.35"/></g>
</svg>
</body></html>
